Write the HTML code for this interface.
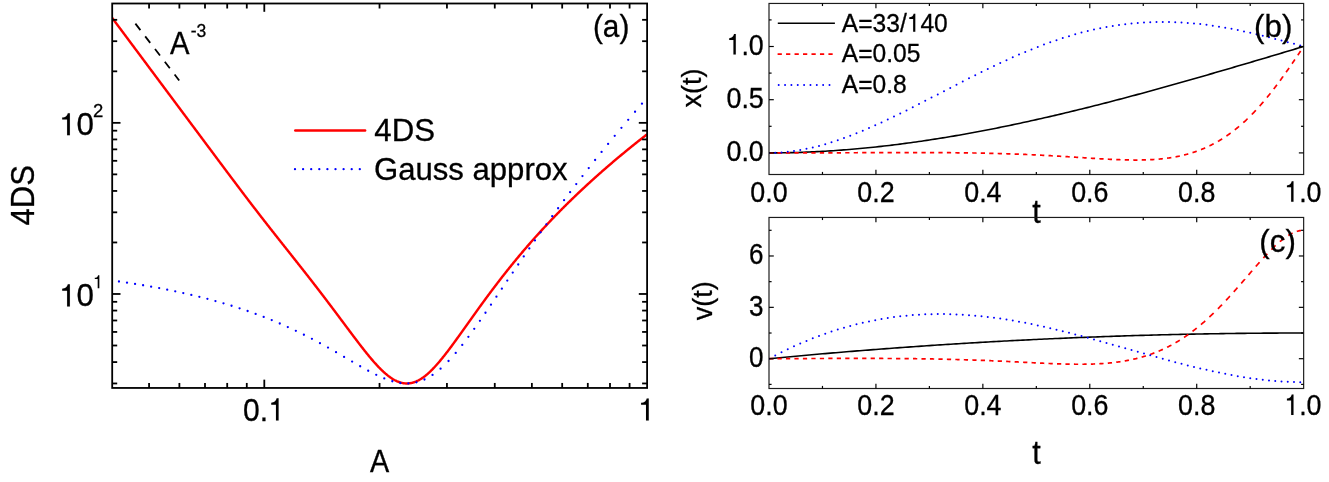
<!DOCTYPE html>
<html><head><meta charset="utf-8"><title>fig</title>
<style>html,body{margin:0;padding:0;background:#fff}svg{display:block;will-change:transform}text{font-kerning:none;stroke:#000;stroke-width:0.3px}.g1{fill:#000;stroke:#000;stroke-width:2}</style></head>
<body>
<svg width="1329" height="482" viewBox="0 0 1329 482">
<rect width="1329" height="482" fill="#fff"/>
<clipPath id="ca"><rect x="112.2" y="3.5" width="534.9" height="384.45"/></clipPath>
<g clip-path="url(#ca)">
<path d="M111.97,17.62 L112.41,18.22 L112.86,18.82 L113.31,19.42 L113.75,20.02 L114.20,20.62 L114.65,21.21 L115.09,21.81 L115.54,22.41 L115.99,23.01 L116.43,23.61 L116.88,24.21 L117.32,24.81 L117.77,25.40 L118.22,26.00 L118.66,26.60 L119.11,27.20 L119.56,27.80 L120.00,28.40 L120.45,29.00 L120.89,29.59 L121.34,30.19 L121.79,30.79 L122.23,31.39 L122.68,31.99 L123.13,32.59 L123.57,33.19 L124.02,33.78 L124.47,34.38 L124.91,34.98 L125.36,35.58 L125.80,36.18 L126.25,36.78 L126.70,37.38 L127.14,37.97 L127.59,38.57 L128.04,39.17 L128.48,39.77 L128.93,40.37 L129.37,40.97 L129.82,41.57 L130.27,42.16 L130.71,42.76 L131.16,43.36 L131.61,43.96 L132.05,44.56 L132.50,45.16 L132.95,45.76 L133.39,46.35 L133.84,46.95 L134.28,47.55 L134.73,48.15 L135.18,48.75 L135.62,49.35 L136.07,49.95 L136.52,50.54 L136.96,51.14 L137.41,51.74 L137.85,52.34 L138.30,52.94 L138.75,53.54 L139.19,54.14 L139.64,54.73 L140.09,55.33 L140.53,55.93 L140.98,56.53 L141.43,57.13 L141.87,57.73 L142.32,58.33 L142.76,58.92 L143.21,59.52 L143.66,60.12 L144.10,60.72 L144.55,61.32 L145.00,61.92 L145.44,62.52 L145.89,63.11 L146.33,63.71 L146.78,64.31 L147.23,64.91 L147.67,65.51 L148.12,66.11 L148.57,66.71 L149.01,67.30 L149.46,67.90 L149.91,68.50 L150.35,69.10 L150.80,69.70 L151.24,70.30 L151.69,70.90 L152.14,71.49 L152.58,72.09 L153.03,72.69 L153.48,73.29 L153.92,73.89 L154.37,74.49 L154.81,75.09 L155.26,75.68 L155.71,76.28 L156.15,76.88 L156.60,77.48 L157.05,78.08 L157.49,78.68 L157.94,79.28 L158.39,79.87 L158.83,80.47 L159.28,81.07 L159.72,81.67 L160.17,82.27 L160.62,82.87 L161.06,83.47 L161.51,84.06 L161.96,84.66 L162.40,85.26 L162.85,85.86 L163.29,86.46 L163.74,87.06 L164.19,87.65 L164.63,88.25 L165.08,88.85 L165.53,89.45 L165.97,90.05 L166.42,90.65 L166.87,91.25 L167.31,91.84 L167.76,92.44 L168.20,93.04 L168.65,93.64 L169.10,94.24 L169.54,94.84 L169.99,95.43 L170.44,96.03 L170.88,96.63 L171.33,97.23 L171.77,97.83 L172.22,98.43 L172.67,99.03 L173.11,99.62 L173.56,100.22 L174.01,100.82 L174.45,101.42 L174.90,102.02 L175.35,102.62 L175.79,103.21 L176.24,103.81 L176.68,104.41 L177.13,105.01 L177.58,105.61 L178.02,106.21 L178.47,106.81 L178.92,107.40 L179.36,108.00 L179.81,108.60 L180.25,109.20 L180.70,109.80 L181.15,110.40 L181.59,110.99 L182.04,111.59 L182.49,112.19 L182.93,112.79 L183.38,113.39 L183.83,113.99 L184.27,114.58 L184.72,115.18 L185.16,115.78 L185.61,116.38 L186.06,116.98 L186.50,117.58 L186.95,118.18 L187.40,118.77 L187.84,119.37 L188.29,119.97 L188.73,120.57 L189.18,121.17 L189.63,121.77 L190.07,122.37 L190.52,122.96 L190.97,123.56 L191.41,124.16 L191.86,124.76 L192.31,125.36 L192.75,125.96 L193.20,126.55 L193.64,127.15 L194.09,127.75 L194.54,128.35 L194.98,128.95 L195.43,129.55 L195.88,130.15 L196.32,130.74 L196.77,131.34 L197.21,131.94 L197.66,132.54 L198.11,133.14 L198.55,133.74 L199.00,134.34 L199.45,134.93 L199.89,135.53 L200.34,136.13 L200.79,136.73 L201.23,137.33 L201.68,137.93 L202.12,138.53 L202.57,139.12 L203.02,139.72 L203.46,140.32 L203.91,140.92 L204.36,141.52 L204.80,142.12 L205.25,142.72 L205.69,143.31 L206.14,143.91 L206.59,144.51 L207.03,145.11 L207.48,145.71 L207.93,146.31 L208.37,146.91 L208.82,147.50 L209.27,148.10 L209.71,148.70 L210.16,149.30 L210.60,149.90 L211.05,150.50 L211.50,151.09 L211.94,151.69 L212.39,152.29 L212.84,152.89 L213.28,153.49 L213.73,154.09 L214.17,154.68 L214.62,155.28 L215.07,155.88 L215.51,156.48 L215.96,157.08 L216.41,157.67 L216.85,158.27 L217.30,158.87 L217.75,159.47 L218.19,160.06 L218.64,160.66 L219.08,161.26 L219.53,161.86 L219.98,162.46 L220.42,163.05 L220.87,163.65 L221.32,164.25 L221.76,164.84 L222.21,165.44 L222.65,166.04 L223.10,166.63 L223.55,167.23 L223.99,167.83 L224.44,168.43 L224.89,169.02 L225.33,169.62 L225.78,170.21 L226.23,170.81 L226.67,171.41 L227.12,172.00 L227.56,172.60 L228.01,173.19 L228.46,173.79 L228.90,174.38 L229.35,174.98 L229.80,175.57 L230.24,176.17 L230.69,176.76 L231.13,177.36 L231.58,177.95 L232.03,178.55 L232.47,179.14 L232.92,179.74 L233.37,180.33 L233.81,180.92 L234.26,181.52 L234.71,182.11 L235.15,182.70 L235.60,183.30 L236.04,183.89 L236.49,184.48 L236.94,185.07 L237.38,185.67 L237.83,186.26 L238.28,186.85 L238.72,187.44 L239.17,188.03 L239.61,188.62 L240.06,189.21 L240.51,189.80 L240.95,190.39 L241.40,190.98 L241.85,191.57 L242.29,192.16 L242.74,192.75 L243.19,193.34 L243.63,193.93 L244.08,194.52 L244.52,195.11 L244.97,195.69 L245.42,196.28 L245.86,196.87 L246.31,197.45 L246.76,198.04 L247.20,198.62 L247.65,199.21 L248.09,199.80 L248.54,200.38 L248.99,200.97 L249.43,201.55 L249.88,202.13 L250.33,202.72 L250.77,203.30 L251.22,203.89 L251.67,204.47 L252.11,205.05 L252.56,205.63 L253.00,206.22 L253.45,206.80 L253.90,207.38 L254.34,207.96 L254.79,208.54 L255.24,209.12 L255.68,209.70 L256.13,210.28 L256.57,210.86 L257.02,211.44 L257.47,212.01 L257.91,212.59 L258.36,213.17 L258.81,213.75 L259.25,214.32 L259.70,214.90 L260.15,215.48 L260.59,216.05 L261.04,216.63 L261.48,217.20 L261.93,217.78 L262.38,218.35 L262.82,218.93 L263.27,219.50 L263.72,220.07 L264.16,220.65 L264.61,221.22 L265.05,221.79 L265.50,222.36 L265.95,222.94 L266.39,223.51 L266.84,224.08 L267.29,224.65 L267.73,225.22 L268.18,225.79 L268.63,226.36 L269.07,226.93 L269.52,227.50 L269.96,228.07 L270.41,228.64 L270.86,229.21 L271.30,229.77 L271.75,230.34 L272.20,230.91 L272.64,231.48 L273.09,232.05 L273.53,232.61 L273.98,233.18 L274.43,233.74 L274.87,234.31 L275.32,234.88 L275.77,235.44 L276.21,236.01 L276.66,236.58 L277.11,237.14 L277.55,237.70 L278.00,238.27 L278.44,238.83 L278.89,239.40 L279.34,239.96 L279.78,240.53 L280.23,241.09 L280.68,241.66 L281.12,242.22 L281.57,242.78 L282.01,243.35 L282.46,243.91 L282.91,244.47 L283.35,245.04 L283.80,245.60 L284.25,246.16 L284.69,246.73 L285.14,247.29 L285.59,247.85 L286.03,248.41 L286.48,248.98 L286.92,249.54 L287.37,250.10 L287.82,250.67 L288.26,251.23 L288.71,251.79 L289.16,252.35 L289.60,252.92 L290.05,253.48 L290.49,254.04 L290.94,254.61 L291.39,255.17 L291.83,255.73 L292.28,256.30 L292.73,256.86 L293.17,257.42 L293.62,257.98 L294.06,258.55 L294.51,259.11 L294.96,259.68 L295.40,260.24 L295.85,260.80 L296.30,261.37 L296.74,261.93 L297.19,262.50 L297.64,263.06 L298.08,263.63 L298.53,264.19 L298.97,264.76 L299.42,265.32 L299.87,265.89 L300.31,266.46 L300.76,267.02 L301.21,267.59 L301.65,268.15 L302.10,268.72 L302.54,269.29 L302.99,269.85 L303.44,270.42 L303.88,270.99 L304.33,271.56 L304.78,272.13 L305.22,272.70 L305.67,273.27 L306.12,273.84 L306.56,274.40 L307.01,274.97 L307.45,275.54 L307.90,276.12 L308.35,276.69 L308.79,277.26 L309.24,277.83 L309.69,278.40 L310.13,278.98 L310.58,279.55 L311.02,280.12 L311.47,280.69 L311.92,281.27 L312.36,281.84 L312.81,282.42 L313.26,282.99 L313.70,283.57 L314.15,284.15 L314.60,284.72 L315.04,285.30 L315.49,285.87 L315.93,286.45 L316.38,287.03 L316.83,287.61 L317.27,288.19 L317.72,288.77 L318.17,289.35 L318.61,289.93 L319.06,290.51 L319.50,291.09 L319.95,291.67 L320.40,292.25 L320.84,292.83 L321.29,293.41 L321.74,294.00 L322.18,294.58 L322.63,295.17 L323.08,295.75 L323.52,296.34 L323.97,296.92 L324.41,297.51 L324.86,298.09 L325.31,298.68 L325.75,299.27 L326.20,299.85 L326.65,300.44 L327.09,301.03 L327.54,301.62 L327.98,302.21 L328.43,302.80 L328.88,303.39 L329.32,303.98 L329.77,304.57 L330.22,305.16 L330.66,305.75 L331.11,306.35 L331.56,306.94 L332.00,307.53 L332.45,308.12 L332.89,308.72 L333.34,309.31 L333.79,309.90 L334.23,310.50 L334.68,311.09 L335.13,311.69 L335.57,312.28 L336.02,312.88 L336.46,313.48 L336.91,314.07 L337.36,314.67 L337.80,315.26 L338.25,315.86 L338.70,316.46 L339.14,317.05 L339.59,317.65 L340.04,318.25 L340.48,318.85 L340.93,319.45 L341.37,320.05 L341.82,320.64 L342.27,321.24 L342.71,321.84 L343.16,322.44 L343.61,323.04 L344.05,323.63 L344.50,324.23 L344.94,324.83 L345.39,325.43 L345.84,326.03 L346.28,326.63 L346.73,327.22 L347.18,327.82 L347.62,328.42 L348.07,329.02 L348.52,329.61 L348.96,330.21 L349.41,330.81 L349.85,331.40 L350.30,332.00 L350.75,332.60 L351.19,333.19 L351.64,333.79 L352.09,334.38 L352.53,334.97 L352.98,335.57 L353.42,336.16 L353.87,336.75 L354.32,337.35 L354.76,337.94 L355.21,338.53 L355.66,339.11 L356.10,339.70 L356.55,340.29 L357.00,340.87 L357.44,341.46 L357.89,342.05 L358.33,342.63 L358.78,343.21 L359.23,343.79 L359.67,344.37 L360.12,344.95 L360.57,345.53 L361.01,346.11 L361.46,346.68 L361.90,347.26 L362.35,347.83 L362.80,348.39 L363.24,348.96 L363.69,349.53 L364.14,350.09 L364.58,350.66 L365.03,351.23 L365.48,351.78 L365.92,352.34 L366.37,352.89 L366.81,353.44 L367.26,353.99 L367.71,354.55 L368.15,355.10 L368.60,355.64 L369.05,356.18 L369.49,356.71 L369.94,357.25 L370.38,357.78 L370.83,358.32 L371.28,358.85 L371.72,359.37 L372.17,359.89 L372.62,360.40 L373.06,360.92 L373.51,361.44 L373.96,361.95 L374.40,362.45 L374.85,362.95 L375.29,363.44 L375.74,363.94 L376.19,364.43 L376.63,364.93 L377.08,365.40 L377.53,365.87 L377.97,366.35 L378.42,366.82 L378.86,367.29 L379.31,367.75 L379.76,368.20 L380.20,368.65 L380.65,369.10 L381.10,369.54 L381.54,369.98 L381.99,370.41 L382.44,370.83 L382.88,371.25 L383.33,371.68 L383.77,372.08 L384.22,372.48 L384.67,372.88 L385.11,373.28 L385.56,373.67 L386.01,374.04 L386.45,374.41 L386.90,374.79 L387.34,375.15 L387.79,375.50 L388.24,375.85 L388.68,376.20 L389.13,376.53 L389.58,376.86 L390.02,377.18 L390.47,377.50 L390.92,377.80 L391.36,378.10 L391.81,378.40 L392.25,378.68 L392.70,378.96 L393.15,379.24 L393.59,379.50 L394.04,379.75 L394.49,380.00 L394.93,380.24 L395.38,380.47 L395.82,380.69 L396.27,380.91 L396.72,381.12 L397.16,381.31 L397.61,381.51 L398.06,381.69 L398.50,381.86 L398.95,382.02 L399.40,382.18 L399.84,382.33 L400.29,382.47 L400.73,382.60 L401.18,382.72 L401.63,382.83 L402.07,382.93 L402.52,383.03 L402.97,383.11 L403.41,383.19 L403.86,383.25 L404.30,383.31 L404.75,383.36 L405.20,383.40 L405.64,383.43 L406.09,383.45 L406.54,383.46 L406.98,383.46 L407.43,383.45 L407.88,383.43 L408.32,383.41 L408.77,383.37 L409.21,383.33 L409.66,383.27 L410.11,383.21 L410.55,383.14 L411.00,383.06 L411.45,382.97 L411.89,382.87 L412.34,382.76 L412.78,382.64 L413.23,382.51 L413.68,382.38 L414.12,382.23 L414.57,382.08 L415.02,381.91 L415.46,381.74 L415.91,381.56 L416.36,381.37 L416.80,381.17 L417.25,380.96 L417.69,380.75 L418.14,380.52 L418.59,380.29 L419.03,380.05 L419.48,379.80 L419.93,379.54 L420.37,379.28 L420.82,379.00 L421.26,378.72 L421.71,378.43 L422.16,378.13 L422.60,377.83 L423.05,377.51 L423.50,377.20 L423.94,376.87 L424.39,376.53 L424.84,376.19 L425.28,375.84 L425.73,375.48 L426.17,375.12 L426.62,374.75 L427.07,374.37 L427.51,373.98 L427.96,373.59 L428.41,373.19 L428.85,372.79 L429.30,372.38 L429.74,371.96 L430.19,371.54 L430.64,371.11 L431.08,370.68 L431.53,370.24 L431.98,369.79 L432.42,369.34 L432.87,368.88 L433.32,368.42 L433.76,367.95 L434.21,367.48 L434.65,367.00 L435.10,366.52 L435.55,366.03 L435.99,365.54 L436.44,365.04 L436.89,364.54 L437.33,364.03 L437.78,363.52 L438.22,363.01 L438.67,362.49 L439.12,361.97 L439.56,361.44 L440.01,360.91 L440.46,360.37 L440.90,359.84 L441.35,359.29 L441.80,358.75 L442.24,358.20 L442.69,357.65 L443.13,357.09 L443.58,356.53 L444.03,355.97 L444.47,355.41 L444.92,354.84 L445.37,354.27 L445.81,353.70 L446.26,353.12 L446.70,352.54 L447.15,351.96 L447.60,351.38 L448.04,350.79 L448.49,350.21 L448.94,349.62 L449.38,349.03 L449.83,348.43 L450.28,347.84 L450.72,347.24 L451.17,346.64 L451.61,346.04 L452.06,345.44 L452.51,344.83 L452.95,344.23 L453.40,343.62 L453.85,343.01 L454.29,342.40 L454.74,341.79 L455.18,341.18 L455.63,340.56 L456.08,339.95 L456.52,339.33 L456.97,338.71 L457.42,338.10 L457.86,337.48 L458.31,336.86 L458.76,336.24 L459.20,335.62 L459.65,334.99 L460.09,334.37 L460.54,333.75 L460.99,333.13 L461.43,332.50 L461.88,331.88 L462.33,331.25 L462.77,330.63 L463.22,330.00 L463.66,329.37 L464.11,328.75 L464.56,328.12 L465.00,327.49 L465.45,326.87 L465.90,326.24 L466.34,325.61 L466.79,324.99 L467.24,324.36 L467.68,323.73 L468.13,323.10 L468.57,322.48 L469.02,321.85 L469.47,321.22 L469.91,320.60 L470.36,319.97 L470.81,319.34 L471.25,318.72 L471.70,318.09 L472.14,317.47 L472.59,316.84 L473.04,316.22 L473.48,315.59 L473.93,314.97 L474.38,314.35 L474.82,313.72 L475.27,313.10 L475.72,312.48 L476.16,311.86 L476.61,311.23 L477.05,310.61 L477.50,309.99 L477.95,309.37 L478.39,308.76 L478.84,308.14 L479.29,307.52 L479.73,306.90 L480.18,306.29 L480.62,305.67 L481.07,305.06 L481.52,304.44 L481.96,303.83 L482.41,303.22 L482.86,302.60 L483.30,301.99 L483.75,301.38 L484.20,300.77 L484.64,300.16 L485.09,299.55 L485.53,298.95 L485.98,298.34 L486.43,297.73 L486.87,297.13 L487.32,296.53 L487.77,295.92 L488.21,295.32 L488.66,294.72 L489.10,294.12 L489.55,293.52 L490.00,292.92 L490.44,292.32 L490.89,291.73 L491.34,291.13 L491.78,290.53 L492.23,289.94 L492.68,289.35 L493.12,288.75 L493.57,288.16 L494.01,287.57 L494.46,286.98 L494.91,286.40 L495.35,285.81 L495.80,285.22 L496.25,284.64 L496.69,284.05 L497.14,283.47 L497.58,282.88 L498.03,282.30 L498.48,281.72 L498.92,281.14 L499.37,280.56 L499.82,279.99 L500.26,279.41 L500.71,278.83 L501.16,278.26 L501.60,277.69 L502.05,277.11 L502.49,276.54 L502.94,275.97 L503.39,275.40 L503.83,274.83 L504.28,274.27 L504.73,273.70 L505.17,273.13 L505.62,272.57 L506.06,272.01 L506.51,271.44 L506.96,270.88 L507.40,270.32 L507.85,269.76 L508.30,269.20 L508.74,268.65 L509.19,268.09 L509.64,267.53 L510.08,266.98 L510.53,266.43 L510.97,265.87 L511.42,265.32 L511.87,264.77 L512.31,264.22 L512.76,263.68 L513.21,263.13 L513.65,262.58 L514.10,262.04 L514.54,261.49 L514.99,260.95 L515.44,260.41 L515.88,259.87 L516.33,259.33 L516.78,258.79 L517.22,258.25 L517.67,257.71 L518.12,257.18 L518.56,256.64 L519.01,256.11 L519.45,255.57 L519.90,255.04 L520.35,254.51 L520.79,253.98 L521.24,253.45 L521.69,252.93 L522.13,252.40 L522.58,251.87 L523.02,251.35 L523.47,250.82 L523.92,250.30 L524.36,249.78 L524.81,249.26 L525.26,248.74 L525.70,248.22 L526.15,247.70 L526.60,247.18 L527.04,246.67 L527.49,246.15 L527.93,245.64 L528.38,245.12 L528.83,244.61 L529.27,244.10 L529.72,243.59 L530.17,243.08 L530.61,242.57 L531.06,242.06 L531.50,241.56 L531.95,241.05 L532.40,240.54 L532.84,240.04 L533.29,239.54 L533.74,239.03 L534.18,238.53 L534.63,238.03 L535.07,237.53 L535.52,237.04 L535.97,236.54 L536.41,236.04 L536.86,235.55 L537.31,235.05 L537.75,234.56 L538.20,234.06 L538.65,233.57 L539.09,233.08 L539.54,232.59 L539.98,232.10 L540.43,231.61 L540.88,231.12 L541.32,230.64 L541.77,230.15 L542.22,229.67 L542.66,229.18 L543.11,228.70 L543.55,228.22 L544.00,227.73 L544.45,227.25 L544.89,226.78 L545.34,226.30 L545.79,225.82 L546.23,225.34 L546.68,224.86 L547.13,224.39 L547.57,223.91 L548.02,223.44 L548.46,222.97 L548.91,222.49 L549.36,222.02 L549.80,221.55 L550.25,221.08 L550.70,220.61 L551.14,220.15 L551.59,219.68 L552.03,219.21 L552.48,218.75 L552.93,218.28 L553.37,217.82 L553.82,217.35 L554.27,216.89 L554.71,216.43 L555.16,215.97 L555.61,215.51 L556.05,215.05 L556.50,214.59 L556.94,214.13 L557.39,213.67 L557.84,213.22 L558.28,212.76 L558.73,212.31 L559.18,211.85 L559.62,211.40 L560.07,210.95 L560.51,210.50 L560.96,210.05 L561.41,209.60 L561.85,209.15 L562.30,208.70 L562.75,208.25 L563.19,207.80 L563.64,207.35 L564.09,206.91 L564.53,206.47 L564.98,206.02 L565.42,205.58 L565.87,205.13 L566.32,204.69 L566.76,204.25 L567.21,203.81 L567.66,203.37 L568.10,202.93 L568.55,202.49 L568.99,202.05 L569.44,201.62 L569.89,201.18 L570.33,200.75 L570.78,200.31 L571.23,199.88 L571.67,199.44 L572.12,199.01 L572.57,198.58 L573.01,198.15 L573.46,197.72 L573.90,197.28 L574.35,196.85 L574.80,196.43 L575.24,196.00 L575.69,195.57 L576.14,195.14 L576.58,194.72 L577.03,194.29 L577.47,193.87 L577.92,193.44 L578.37,193.02 L578.81,192.60 L579.26,192.17 L579.71,191.75 L580.15,191.33 L580.60,190.91 L581.05,190.49 L581.49,190.07 L581.94,189.65 L582.38,189.24 L582.83,188.82 L583.28,188.40 L583.72,187.99 L584.17,187.57 L584.62,187.16 L585.06,186.74 L585.51,186.33 L585.95,185.92 L586.40,185.50 L586.85,185.09 L587.29,184.68 L587.74,184.27 L588.19,183.86 L588.63,183.45 L589.08,183.04 L589.53,182.63 L589.97,182.23 L590.42,181.82 L590.86,181.41 L591.31,181.01 L591.76,180.60 L592.20,180.20 L592.65,179.80 L593.10,179.39 L593.54,178.99 L593.99,178.59 L594.43,178.19 L594.88,177.78 L595.33,177.38 L595.77,176.98 L596.22,176.59 L596.67,176.19 L597.11,175.79 L597.56,175.39 L598.01,174.99 L598.45,174.60 L598.90,174.20 L599.34,173.80 L599.79,173.41 L600.24,173.02 L600.68,172.62 L601.13,172.23 L601.58,171.84 L602.02,171.44 L602.47,171.05 L602.91,170.66 L603.36,170.27 L603.81,169.88 L604.25,169.49 L604.70,169.10 L605.15,168.71 L605.59,168.32 L606.04,167.94 L606.49,167.55 L606.93,167.16 L607.38,166.78 L607.82,166.39 L608.27,166.01 L608.72,165.62 L609.16,165.24 L609.61,164.86 L610.06,164.47 L610.50,164.09 L610.95,163.71 L611.39,163.33 L611.84,162.95 L612.29,162.57 L612.73,162.19 L613.18,161.81 L613.63,161.43 L614.07,161.05 L614.52,160.67 L614.97,160.29 L615.41,159.92 L615.86,159.54 L616.30,159.16 L616.75,158.79 L617.20,158.41 L617.64,158.04 L618.09,157.67 L618.54,157.29 L618.98,156.92 L619.43,156.55 L619.87,156.17 L620.32,155.80 L620.77,155.43 L621.21,155.06 L621.66,154.69 L622.11,154.32 L622.55,153.95 L623.00,153.58 L623.45,153.21 L623.89,152.84 L624.34,152.48 L624.78,152.11 L625.23,151.74 L625.68,151.37 L626.12,151.01 L626.57,150.64 L627.02,150.28 L627.46,149.91 L627.91,149.55 L628.35,149.19 L628.80,148.82 L629.25,148.46 L629.69,148.10 L630.14,147.73 L630.59,147.37 L631.03,147.01 L631.48,146.65 L631.93,146.29 L632.37,145.93 L632.82,145.57 L633.26,145.21 L633.71,144.85 L634.16,144.49 L634.60,144.14 L635.05,143.78 L635.50,143.42 L635.94,143.07 L636.39,142.71 L636.83,142.35 L637.28,142.00 L637.73,141.64 L638.17,141.29 L638.62,140.93 L639.07,140.58 L639.51,140.23 L639.96,139.87 L640.41,139.52 L640.85,139.17 L641.30,138.82 L641.74,138.46 L642.19,138.11 L642.64,137.76 L643.08,137.41 L643.53,137.06 L643.98,136.71 L644.42,136.36 L644.87,136.02 L645.31,135.67 L645.76,135.32 L646.21,134.97 L646.65,134.62 L647.10,134.28" fill="none" stroke="#ff0000" stroke-width="2.45" stroke-linejoin="round"/>
<path d="M118.97,281.50h0M127.01,282.68h0M135.05,283.93h0M143.09,285.25h0M151.13,286.65h0M159.17,288.12h0M167.21,289.67h0M175.25,291.31h0M183.29,293.05h0M191.33,294.88h0M199.37,296.82h0M207.41,298.87h0M215.45,301.04h0M223.49,303.33h0M231.53,305.75h0M239.57,308.31h0M247.61,311.02h0M255.65,313.89h0M263.69,316.92h0M271.73,320.12h0M279.77,323.50h0M287.81,327.06h0M295.85,330.81h0M303.89,334.74h0M311.93,338.86h0M319.97,343.16h0M328.01,347.62h0M336.05,352.22h0M344.09,356.90h0M352.13,361.61h0M360.17,366.26h0M368.21,370.73h0M376.25,374.85h0M384.29,378.43h0M392.33,381.23h0M400.37,382.99h0M408.41,383.43h0M416.45,382.33h0M424.49,379.52h0M432.53,374.96h0M440.57,368.70h0M448.54,360.99h0M455.73,352.95h0M462.26,344.91h0M468.38,336.87h0M474.24,328.83h0M479.92,320.79h0M485.49,312.75h0M490.98,304.71h0M496.43,296.67h0M501.86,288.63h0M507.29,280.59h0M512.75,272.55h0M518.23,264.51h0M523.75,256.47h0M529.32,248.43h0M534.95,240.39h0M540.63,232.35h0M546.39,224.31h0M552.21,216.27h0M558.11,208.23h0M564.08,200.19h0M570.13,192.15h0M576.26,184.11h0M582.46,176.07h0M588.75,168.03h0M595.13,159.99h0M601.58,151.95h0M608.11,143.91h0M614.73,135.87h0M621.42,127.83h0M628.20,119.79h0M635.05,111.75h0M641.98,103.71h0" fill="none" stroke="#0000ff" stroke-width="2.3" stroke-linecap="round"/>
</g>
<path d="M135.40,23.60 L179.20,80.50" fill="none" stroke="#000" stroke-width="1.8" stroke-dasharray="8.2 7.87"/>
<rect x="112.2" y="3.5" width="534.9" height="384.45" fill="none" stroke="#000" stroke-width="1.8"/>
<line x1="149.07" y1="387.95" x2="149.07" y2="382.95" stroke="#000" stroke-width="1.8"/>
<line x1="149.07" y1="3.50" x2="149.07" y2="8.50" stroke="#000" stroke-width="1.8"/>
<line x1="179.38" y1="387.95" x2="179.38" y2="382.95" stroke="#000" stroke-width="1.8"/>
<line x1="179.38" y1="3.50" x2="179.38" y2="8.50" stroke="#000" stroke-width="1.8"/>
<line x1="205.00" y1="387.95" x2="205.00" y2="382.95" stroke="#000" stroke-width="1.8"/>
<line x1="205.00" y1="3.50" x2="205.00" y2="8.50" stroke="#000" stroke-width="1.8"/>
<line x1="227.20" y1="387.95" x2="227.20" y2="382.95" stroke="#000" stroke-width="1.8"/>
<line x1="227.20" y1="3.50" x2="227.20" y2="8.50" stroke="#000" stroke-width="1.8"/>
<line x1="246.78" y1="387.95" x2="246.78" y2="382.95" stroke="#000" stroke-width="1.8"/>
<line x1="246.78" y1="3.50" x2="246.78" y2="8.50" stroke="#000" stroke-width="1.8"/>
<line x1="264.30" y1="387.95" x2="264.30" y2="379.65" stroke="#000" stroke-width="1.8"/>
<line x1="264.30" y1="3.50" x2="264.30" y2="11.80" stroke="#000" stroke-width="1.8"/>
<line x1="379.53" y1="387.95" x2="379.53" y2="382.95" stroke="#000" stroke-width="1.8"/>
<line x1="379.53" y1="3.50" x2="379.53" y2="8.50" stroke="#000" stroke-width="1.8"/>
<line x1="446.94" y1="387.95" x2="446.94" y2="382.95" stroke="#000" stroke-width="1.8"/>
<line x1="446.94" y1="3.50" x2="446.94" y2="8.50" stroke="#000" stroke-width="1.8"/>
<line x1="494.77" y1="387.95" x2="494.77" y2="382.95" stroke="#000" stroke-width="1.8"/>
<line x1="494.77" y1="3.50" x2="494.77" y2="8.50" stroke="#000" stroke-width="1.8"/>
<line x1="531.87" y1="387.95" x2="531.87" y2="382.95" stroke="#000" stroke-width="1.8"/>
<line x1="531.87" y1="3.50" x2="531.87" y2="8.50" stroke="#000" stroke-width="1.8"/>
<line x1="562.18" y1="387.95" x2="562.18" y2="382.95" stroke="#000" stroke-width="1.8"/>
<line x1="562.18" y1="3.50" x2="562.18" y2="8.50" stroke="#000" stroke-width="1.8"/>
<line x1="587.80" y1="387.95" x2="587.80" y2="382.95" stroke="#000" stroke-width="1.8"/>
<line x1="587.80" y1="3.50" x2="587.80" y2="8.50" stroke="#000" stroke-width="1.8"/>
<line x1="610.00" y1="387.95" x2="610.00" y2="382.95" stroke="#000" stroke-width="1.8"/>
<line x1="610.00" y1="3.50" x2="610.00" y2="8.50" stroke="#000" stroke-width="1.8"/>
<line x1="629.58" y1="387.95" x2="629.58" y2="382.95" stroke="#000" stroke-width="1.8"/>
<line x1="629.58" y1="3.50" x2="629.58" y2="8.50" stroke="#000" stroke-width="1.8"/>
<line x1="112.20" y1="383.46" x2="117.20" y2="383.46" stroke="#000" stroke-width="1.8"/>
<line x1="647.10" y1="383.46" x2="642.10" y2="383.46" stroke="#000" stroke-width="1.8"/>
<line x1="112.20" y1="362.08" x2="117.20" y2="362.08" stroke="#000" stroke-width="1.8"/>
<line x1="647.10" y1="362.08" x2="642.10" y2="362.08" stroke="#000" stroke-width="1.8"/>
<line x1="112.20" y1="345.50" x2="117.20" y2="345.50" stroke="#000" stroke-width="1.8"/>
<line x1="647.10" y1="345.50" x2="642.10" y2="345.50" stroke="#000" stroke-width="1.8"/>
<line x1="112.20" y1="331.94" x2="117.20" y2="331.94" stroke="#000" stroke-width="1.8"/>
<line x1="647.10" y1="331.94" x2="642.10" y2="331.94" stroke="#000" stroke-width="1.8"/>
<line x1="112.20" y1="320.49" x2="117.20" y2="320.49" stroke="#000" stroke-width="1.8"/>
<line x1="647.10" y1="320.49" x2="642.10" y2="320.49" stroke="#000" stroke-width="1.8"/>
<line x1="112.20" y1="310.56" x2="117.20" y2="310.56" stroke="#000" stroke-width="1.8"/>
<line x1="647.10" y1="310.56" x2="642.10" y2="310.56" stroke="#000" stroke-width="1.8"/>
<line x1="112.20" y1="301.81" x2="117.20" y2="301.81" stroke="#000" stroke-width="1.8"/>
<line x1="647.10" y1="301.81" x2="642.10" y2="301.81" stroke="#000" stroke-width="1.8"/>
<line x1="112.20" y1="293.98" x2="120.50" y2="293.98" stroke="#000" stroke-width="1.8"/>
<line x1="647.10" y1="293.98" x2="638.80" y2="293.98" stroke="#000" stroke-width="1.8"/>
<line x1="112.20" y1="242.46" x2="117.20" y2="242.46" stroke="#000" stroke-width="1.8"/>
<line x1="647.10" y1="242.46" x2="642.10" y2="242.46" stroke="#000" stroke-width="1.8"/>
<line x1="112.20" y1="212.33" x2="117.20" y2="212.33" stroke="#000" stroke-width="1.8"/>
<line x1="647.10" y1="212.33" x2="642.10" y2="212.33" stroke="#000" stroke-width="1.8"/>
<line x1="112.20" y1="190.95" x2="117.20" y2="190.95" stroke="#000" stroke-width="1.8"/>
<line x1="647.10" y1="190.95" x2="642.10" y2="190.95" stroke="#000" stroke-width="1.8"/>
<line x1="112.20" y1="174.37" x2="117.20" y2="174.37" stroke="#000" stroke-width="1.8"/>
<line x1="647.10" y1="174.37" x2="642.10" y2="174.37" stroke="#000" stroke-width="1.8"/>
<line x1="112.20" y1="160.81" x2="117.20" y2="160.81" stroke="#000" stroke-width="1.8"/>
<line x1="647.10" y1="160.81" x2="642.10" y2="160.81" stroke="#000" stroke-width="1.8"/>
<line x1="112.20" y1="149.36" x2="117.20" y2="149.36" stroke="#000" stroke-width="1.8"/>
<line x1="647.10" y1="149.36" x2="642.10" y2="149.36" stroke="#000" stroke-width="1.8"/>
<line x1="112.20" y1="139.43" x2="117.20" y2="139.43" stroke="#000" stroke-width="1.8"/>
<line x1="647.10" y1="139.43" x2="642.10" y2="139.43" stroke="#000" stroke-width="1.8"/>
<line x1="112.20" y1="130.68" x2="117.20" y2="130.68" stroke="#000" stroke-width="1.8"/>
<line x1="647.10" y1="130.68" x2="642.10" y2="130.68" stroke="#000" stroke-width="1.8"/>
<line x1="112.20" y1="122.85" x2="120.50" y2="122.85" stroke="#000" stroke-width="1.8"/>
<line x1="647.10" y1="122.85" x2="638.80" y2="122.85" stroke="#000" stroke-width="1.8"/>
<line x1="112.20" y1="71.33" x2="117.20" y2="71.33" stroke="#000" stroke-width="1.8"/>
<line x1="647.10" y1="71.33" x2="642.10" y2="71.33" stroke="#000" stroke-width="1.8"/>
<line x1="112.20" y1="41.20" x2="117.20" y2="41.20" stroke="#000" stroke-width="1.8"/>
<line x1="647.10" y1="41.20" x2="642.10" y2="41.20" stroke="#000" stroke-width="1.8"/>
<line x1="112.20" y1="19.82" x2="117.20" y2="19.82" stroke="#000" stroke-width="1.8"/>
<line x1="647.10" y1="19.82" x2="642.10" y2="19.82" stroke="#000" stroke-width="1.8"/>
<g transform="translate(264.00,420.50) scale(0.96,1.0)">
<path class="g1" transform="translate(4.35,0.00) scale(0.03130)" d="M259,0V-505H102V-568C204,-581 247,-599 282,-709H347V0Z"/>
<text x="-21.76" y="0" font-size="31.3" font-family="Liberation Sans, sans-serif" >0.<tspan style="visibility:hidden">1</tspan></text></g>
<g transform="translate(646.60,420.60)">
<path class="g1" transform="translate(-8.70,0.00) scale(0.03130)" d="M259,0V-505H102V-568C204,-581 247,-599 282,-709H347V0Z"/>
<text x="-8.70" y="0" font-size="31.3" font-family="Liberation Sans, sans-serif" ><tspan style="visibility:hidden">1</tspan></text></g>
<g transform="translate(59.00,135.35)">
<path class="g1" transform="translate(0.00,0.00) scale(0.03130)" d="M259,0V-505H102V-568C204,-581 247,-599 282,-709H347V0Z"/>
<text x="0.00" y="0" font-size="31.3" font-family="Liberation Sans, sans-serif" ><tspan style="visibility:hidden">1</tspan>0</text></g>
<g transform="translate(92.91,117.15)">
<text x="0.00" y="0" font-size="18.5" font-family="Liberation Sans, sans-serif" >2</text></g>
<g transform="translate(59.00,306.48)">
<path class="g1" transform="translate(0.00,0.00) scale(0.03130)" d="M259,0V-505H102V-568C204,-581 247,-599 282,-709H347V0Z"/>
<text x="0.00" y="0" font-size="31.3" font-family="Liberation Sans, sans-serif" ><tspan style="visibility:hidden">1</tspan>0</text></g>
<g transform="translate(92.91,288.28)">
<path class="g1" transform="translate(0.00,0.00) scale(0.01850)" d="M259,0V-505H102V-568C204,-581 247,-599 282,-709H347V0Z"/>
<text x="0.00" y="0" font-size="18.5" font-family="Liberation Sans, sans-serif" ><tspan style="visibility:hidden">1</tspan></text></g>
<text transform="translate(379.5,471.6) scale(1,1.105)" font-size="28.8" text-anchor="middle" font-family="Liberation Sans, sans-serif">A</text>
<text transform="translate(34.2,195.3) rotate(-90) scale(1,1.09)" font-size="31.1" text-anchor="middle" font-family="Liberation Sans, sans-serif">4DS</text>
<g transform="translate(611.10,36.70) scale(0.955,1.0)">
<text x="-19.07" y="0" font-size="31.2" font-family="Liberation Sans, sans-serif" >(a)</text></g>
<g transform="translate(170.00,54.40) scale(0.935,1.0)">
<text x="0.00" y="0" font-size="31.3" font-family="Liberation Sans, sans-serif" >A</text></g>
<g transform="translate(190.78,36.60)">
<text x="0.00" y="0" font-size="17.5" font-family="Liberation Sans, sans-serif" >-3</text></g>
<line x1="295.3" y1="130.5" x2="365.1" y2="130.5" stroke="#ff0000" stroke-width="2.5" stroke-linecap="round"/>
<path d="M295.00,169.20h0M303.10,169.20h0M311.20,169.20h0M319.30,169.20h0M327.40,169.20h0M335.50,169.20h0M343.60,169.20h0M351.70,169.20h0M359.80,169.20h0" fill="none" stroke="#0000ff" stroke-width="2.3" stroke-linecap="round"/>
<g transform="translate(374.30,140.50)">
<text x="0.00" y="0" font-size="31.2" font-family="Liberation Sans, sans-serif" >4DS</text></g>
<g transform="translate(374.00,180.10)">
<text x="0.00" y="0" font-size="31.1" font-family="Liberation Sans, sans-serif" >Gauss approx</text></g>
<clipPath id="cb"><rect x="769.0" y="3.45" width="534.6500000000001" height="171.05"/></clipPath>
<g clip-path="url(#cb)">
<path d="M769.00,152.90 L771.67,152.90 L774.35,152.88 L777.02,152.86 L779.69,152.84 L782.37,152.80 L785.04,152.76 L787.71,152.71 L790.39,152.65 L793.06,152.58 L795.73,152.51 L798.41,152.43 L801.08,152.34 L803.75,152.24 L806.43,152.14 L809.10,152.02 L811.77,151.91 L814.45,151.78 L817.12,151.65 L819.79,151.51 L822.47,151.36 L825.14,151.20 L827.81,151.04 L830.48,150.87 L833.16,150.69 L835.83,150.51 L838.50,150.32 L841.18,150.12 L843.85,149.92 L846.52,149.71 L849.20,149.49 L851.87,149.26 L854.54,149.03 L857.22,148.79 L859.89,148.55 L862.56,148.30 L865.24,148.04 L867.91,147.77 L870.58,147.50 L873.26,147.23 L875.93,146.94 L878.60,146.65 L881.28,146.35 L883.95,146.05 L886.62,145.74 L889.30,145.43 L891.97,145.10 L894.64,144.78 L897.32,144.44 L899.99,144.10 L902.66,143.76 L905.34,143.40 L908.01,143.05 L910.68,142.68 L913.36,142.31 L916.03,141.94 L918.70,141.56 L921.38,141.17 L924.05,140.78 L926.72,140.38 L929.39,139.97 L932.07,139.56 L934.74,139.15 L937.41,138.73 L940.09,138.30 L942.76,137.87 L945.43,137.43 L948.11,136.99 L950.78,136.54 L953.45,136.09 L956.13,135.63 L958.80,135.17 L961.47,134.70 L964.15,134.22 L966.82,133.75 L969.49,133.26 L972.17,132.77 L974.84,132.28 L977.51,131.78 L980.19,131.28 L982.86,130.77 L985.53,130.26 L988.21,129.74 L990.88,129.22 L993.55,128.69 L996.23,128.16 L998.90,127.62 L1001.57,127.08 L1004.25,126.53 L1006.92,125.98 L1009.59,125.43 L1012.27,124.87 L1014.94,124.31 L1017.61,123.74 L1020.29,123.17 L1022.96,122.59 L1025.63,122.01 L1028.31,121.43 L1030.98,120.84 L1033.65,120.25 L1036.33,119.65 L1039.00,119.05 L1041.67,118.45 L1044.34,117.84 L1047.02,117.22 L1049.69,116.61 L1052.36,115.99 L1055.04,115.37 L1057.71,114.74 L1060.38,114.11 L1063.06,113.47 L1065.73,112.83 L1068.40,112.19 L1071.08,111.55 L1073.75,110.90 L1076.42,110.25 L1079.10,109.59 L1081.77,108.93 L1084.44,108.27 L1087.12,107.60 L1089.79,106.94 L1092.46,106.26 L1095.14,105.59 L1097.81,104.91 L1100.48,104.23 L1103.16,103.54 L1105.83,102.86 L1108.50,102.17 L1111.18,101.47 L1113.85,100.78 L1116.52,100.08 L1119.20,99.38 L1121.87,98.67 L1124.54,97.97 L1127.22,97.26 L1129.89,96.54 L1132.56,95.83 L1135.24,95.11 L1137.91,94.39 L1140.58,93.67 L1143.26,92.94 L1145.93,92.22 L1148.60,91.49 L1151.27,90.75 L1153.95,90.02 L1156.62,89.28 L1159.29,88.54 L1161.97,87.80 L1164.64,87.06 L1167.31,86.32 L1169.99,85.57 L1172.66,84.82 L1175.33,84.07 L1178.01,83.32 L1180.68,82.56 L1183.35,81.80 L1186.03,81.05 L1188.70,80.29 L1191.37,79.52 L1194.05,78.76 L1196.72,77.99 L1199.39,77.23 L1202.07,76.46 L1204.74,75.69 L1207.41,74.92 L1210.09,74.14 L1212.76,73.37 L1215.43,72.60 L1218.11,71.82 L1220.78,71.04 L1223.45,70.26 L1226.13,69.48 L1228.80,68.70 L1231.47,67.92 L1234.15,67.13 L1236.82,66.35 L1239.49,65.56 L1242.17,64.77 L1244.84,63.99 L1247.51,63.20 L1250.19,62.41 L1252.86,61.62 L1255.53,60.83 L1258.20,60.03 L1260.88,59.24 L1263.55,58.45 L1266.22,57.65 L1268.90,56.86 L1271.57,56.06 L1274.24,55.27 L1276.92,54.47 L1279.59,53.68 L1282.26,52.88 L1284.94,52.08 L1287.61,51.29 L1290.28,50.49 L1292.96,49.69 L1295.63,48.89 L1298.30,48.10 L1300.98,47.30 L1303.65,46.50" fill="none" stroke="#000" stroke-width="1.6"/>
<path d="M769.00,152.90L769.27,152.90L769.80,152.90L770.07,152.90L770.60,152.90L770.87,152.90L771.41,152.90L771.67,152.90L772.21,152.90L772.48,152.90L773.01,152.90L773.25,152.90M777.47,152.90L777.82,152.90L778.09,152.90L778.62,152.90L778.89,152.90L779.43,152.90L779.69,152.90L780.23,152.90L780.49,152.90L781.03,152.90L781.30,152.90L781.72,152.90M785.94,152.89L786.38,152.89L786.64,152.89L787.18,152.89L787.45,152.89L787.98,152.89L788.25,152.89L788.78,152.89L789.05,152.89L789.58,152.89L789.85,152.89L790.19,152.89M794.41,152.88L794.66,152.88L795.20,152.88L795.47,152.88L796.00,152.88L796.27,152.88L796.80,152.88L797.07,152.88L797.60,152.88L797.87,152.88L798.41,152.88L798.66,152.88M802.88,152.87L803.22,152.87L803.48,152.87L804.02,152.87L804.29,152.87L804.82,152.87L805.09,152.86L805.62,152.86L805.89,152.86L806.43,152.86L806.69,152.86L807.13,152.86M811.35,152.85L811.77,152.85L812.04,152.85L812.57,152.85L812.84,152.85L813.38,152.85L813.64,152.85L814.18,152.85L814.45,152.85L814.98,152.84L815.25,152.84L815.60,152.84M819.82,152.83L820.33,152.83L820.59,152.83L821.13,152.83L821.40,152.83L821.93,152.83L822.20,152.83L822.73,152.83L823.00,152.83L823.53,152.82L823.80,152.82L824.07,152.82M828.29,152.81L828.61,152.81L828.88,152.81L829.42,152.81L829.68,152.81L830.22,152.81L830.48,152.81L831.02,152.80L831.29,152.80L831.82,152.80L832.09,152.80L832.54,152.80M836.76,152.79L837.17,152.79L837.44,152.79L837.97,152.78L838.24,152.78L838.77,152.78L839.04,152.78L839.57,152.78L839.84,152.78L840.38,152.78L840.64,152.78L841.01,152.78M845.23,152.76L845.72,152.76L845.99,152.76L846.52,152.76L846.79,152.76L847.33,152.76L847.59,152.76L848.13,152.75L848.40,152.75L848.93,152.75L849.20,152.75L849.48,152.75M853.70,152.74L854.01,152.74L854.28,152.73L854.81,152.73L855.08,152.73L855.61,152.73L855.88,152.73L856.42,152.73L856.68,152.73L857.22,152.73L857.48,152.72L857.95,152.72M862.17,152.71L862.56,152.71L862.83,152.71L863.37,152.71L863.63,152.71L864.17,152.70L864.44,152.70L864.97,152.70L865.24,152.70L865.77,152.70L866.04,152.70L866.42,152.70M870.64,152.68L871.12,152.68L871.39,152.68L871.92,152.68L872.19,152.68L872.72,152.68L872.99,152.68L873.52,152.68L873.79,152.67L874.33,152.67L874.59,152.67L874.89,152.67M879.11,152.66L879.41,152.66L879.67,152.66L880.21,152.66L880.47,152.66L881.01,152.65L881.28,152.65L881.81,152.65L882.08,152.65L882.61,152.65L882.88,152.65L883.36,152.65M887.58,152.64L887.96,152.64L888.23,152.64L888.76,152.63L889.03,152.63L889.56,152.63L889.83,152.63L890.37,152.63L890.63,152.63L891.17,152.63L891.43,152.63L891.83,152.63M896.05,152.62L896.51,152.62L896.78,152.62L897.32,152.62L897.58,152.62L898.12,152.62L898.39,152.62L898.92,152.61L899.19,152.61L899.72,152.61L899.99,152.61L900.30,152.61M904.52,152.61L904.80,152.61L905.07,152.61L905.60,152.61L905.87,152.61L906.41,152.61L906.67,152.61L907.21,152.60L907.47,152.60L908.01,152.60L908.28,152.60L908.77,152.60M912.99,152.60L913.36,152.60L913.62,152.60L914.16,152.60L914.42,152.60L914.96,152.60L915.23,152.60L915.76,152.60L916.03,152.60L916.56,152.60L916.83,152.60L917.24,152.60M921.46,152.61L921.91,152.61L922.18,152.61L922.71,152.61L922.98,152.61L923.51,152.61L923.78,152.61L924.32,152.61L924.58,152.61L925.12,152.61L925.39,152.61L925.71,152.61M929.93,152.62L930.20,152.62L930.73,152.62L931.00,152.62L931.53,152.63L931.80,152.63L932.34,152.63L932.60,152.63L933.14,152.63L933.40,152.63L933.94,152.63L934.18,152.63M938.40,152.65L938.75,152.65L939.02,152.65L939.55,152.66L939.82,152.66L940.36,152.66L940.62,152.66L941.16,152.66L941.42,152.67L941.96,152.67L942.23,152.67L942.65,152.67M946.87,152.70L947.31,152.70L947.57,152.70L948.11,152.71L948.38,152.71L948.91,152.71L949.18,152.71L949.71,152.72L949.98,152.72L950.51,152.72L950.78,152.73L951.12,152.73M955.34,152.76L955.59,152.77L956.13,152.77L956.39,152.77L956.93,152.78L957.20,152.78L957.73,152.79L958.00,152.79L958.53,152.79L958.80,152.80L959.34,152.80L959.59,152.80M963.81,152.85L964.15,152.86L964.41,152.86L964.95,152.87L965.22,152.87L965.75,152.88L966.02,152.88L966.55,152.89L966.82,152.89L967.36,152.90L967.62,152.90L968.06,152.91M972.28,152.97L972.70,152.97L972.97,152.98L973.50,152.98L973.77,152.99L974.31,153.00L974.57,153.00L975.11,153.01L975.37,153.01L975.91,153.02L976.18,153.03L976.53,153.03M980.75,153.11L981.26,153.12L981.52,153.12L982.06,153.13L982.33,153.14L982.86,153.15L983.13,153.15L983.66,153.16L983.93,153.17L984.46,153.18L984.73,153.19L985.00,153.19M989.22,153.28L989.54,153.29L989.81,153.30L990.35,153.31L990.61,153.32L991.15,153.33L991.41,153.33L991.95,153.35L992.22,153.35L992.75,153.37L993.02,153.37L993.47,153.38M997.69,153.49L998.10,153.50L998.36,153.51L998.90,153.53L999.17,153.53L999.70,153.55L999.97,153.56L1000.50,153.57L1000.77,153.58L1001.31,153.59L1001.57,153.60L1001.94,153.61M1006.16,153.74L1006.65,153.76L1006.92,153.76L1007.45,153.78L1007.72,153.79L1008.26,153.81L1008.52,153.82L1009.06,153.83L1009.33,153.84L1009.86,153.86L1010.13,153.87L1010.41,153.88M1014.63,154.03L1014.94,154.04L1015.21,154.05L1015.74,154.07L1016.01,154.08L1016.54,154.10L1016.81,154.11L1017.34,154.13L1017.61,154.14L1018.15,154.16L1018.41,154.17L1018.88,154.19M1023.10,154.36L1023.49,154.37L1023.76,154.38L1024.30,154.41L1024.56,154.42L1025.10,154.44L1025.36,154.45L1025.90,154.47L1026.17,154.48L1026.70,154.51L1026.97,154.52L1027.35,154.54M1031.57,154.73L1032.05,154.75L1032.32,154.76L1032.85,154.79L1033.12,154.80L1033.65,154.82L1033.92,154.84L1034.45,154.86L1034.72,154.87L1035.26,154.90L1035.52,154.91L1035.82,154.93M1040.04,155.14L1040.33,155.15L1040.60,155.17L1041.14,155.19L1041.40,155.21L1041.94,155.23L1042.21,155.25L1042.74,155.28L1043.01,155.29L1043.54,155.32L1043.81,155.33L1044.29,155.36M1048.51,155.59L1048.89,155.61L1049.16,155.62L1049.69,155.65L1049.96,155.67L1050.49,155.70L1050.76,155.71L1051.30,155.74L1051.56,155.76L1052.10,155.79L1052.36,155.80L1052.76,155.83M1056.98,156.07L1057.44,156.10L1057.71,156.12L1058.25,156.15L1058.51,156.16L1059.05,156.20L1059.31,156.21L1059.85,156.25L1060.12,156.26L1060.65,156.29L1060.92,156.31L1061.23,156.33M1065.45,156.59L1065.73,156.61L1066.00,156.62L1066.53,156.66L1066.80,156.67L1067.33,156.71L1067.60,156.72L1068.14,156.76L1068.40,156.77L1068.94,156.81L1069.21,156.82L1069.70,156.86M1073.92,157.12L1074.29,157.15L1074.55,157.17L1075.09,157.20L1075.35,157.22L1075.89,157.25L1076.16,157.27L1076.69,157.30L1076.96,157.32L1077.49,157.35L1077.76,157.37L1078.17,157.40M1082.39,157.67L1082.84,157.70L1083.11,157.72L1083.64,157.75L1083.91,157.77L1084.44,157.80L1084.71,157.82L1085.25,157.85L1085.51,157.87L1086.05,157.91L1086.31,157.92L1086.64,157.94M1090.86,158.21L1091.13,158.23L1091.66,158.26L1091.93,158.28L1092.46,158.31L1092.73,158.33L1093.27,158.36L1093.53,158.38L1094.07,158.41L1094.33,158.43L1094.87,158.46L1095.11,158.47M1099.33,158.73L1099.68,158.75L1099.95,158.76L1100.48,158.79L1100.75,158.81L1101.28,158.84L1101.55,158.86L1102.09,158.89L1102.35,158.90L1102.89,158.93L1103.16,158.95L1103.58,158.97M1107.80,159.20L1108.24,159.22L1108.50,159.23L1109.04,159.26L1109.30,159.27L1109.84,159.30L1110.11,159.31L1110.64,159.34L1110.91,159.35L1111.44,159.38L1111.71,159.39L1112.05,159.41M1116.27,159.59L1116.52,159.60L1117.06,159.62L1117.32,159.63L1117.86,159.65L1118.13,159.66L1118.66,159.68L1118.93,159.69L1119.46,159.71L1119.73,159.72L1120.27,159.74L1120.52,159.75M1124.74,159.88L1125.08,159.89L1125.34,159.89L1125.88,159.91L1126.15,159.91L1126.68,159.93L1126.95,159.93L1127.48,159.94L1127.75,159.95L1128.28,159.96L1128.55,159.96L1128.99,159.97M1133.21,160.02L1133.63,160.02L1133.90,160.03L1134.43,160.03L1134.70,160.03L1135.24,160.03L1135.50,160.03L1136.04,160.03L1136.30,160.03L1136.84,160.03L1137.11,160.03L1137.46,160.03M1141.68,159.98L1142.19,159.97L1142.45,159.96L1142.99,159.95L1143.26,159.94L1143.79,159.93L1144.06,159.92L1144.59,159.91L1144.86,159.90L1145.39,159.89L1145.66,159.88L1145.93,159.87M1150.15,159.70L1150.47,159.68L1150.74,159.67L1151.27,159.64L1151.54,159.62L1152.08,159.59L1152.34,159.58L1152.88,159.55L1153.15,159.53L1153.68,159.49L1153.95,159.48L1154.40,159.45M1158.62,159.12L1159.03,159.09L1159.29,159.06L1159.83,159.01L1160.10,158.99L1160.63,158.94L1160.90,158.91L1161.43,158.86L1161.70,158.83L1162.24,158.77L1162.50,158.74L1162.87,158.71M1167.09,158.20L1167.58,158.13L1167.85,158.09L1168.38,158.02L1168.65,157.98L1169.19,157.91L1169.45,157.87L1169.99,157.79L1170.25,157.75L1170.79,157.67L1171.06,157.62L1171.34,157.58M1175.56,156.85L1175.87,156.80L1176.14,156.75L1176.67,156.64L1176.94,156.59L1177.47,156.49L1177.74,156.43L1178.27,156.32L1178.54,156.27L1179.08,156.16L1179.34,156.10L1179.81,156.00M1184.03,155.03L1184.42,154.93L1184.69,154.86L1185.23,154.73L1185.49,154.66L1186.03,154.52L1186.29,154.45L1186.83,154.30L1187.10,154.23L1187.63,154.08L1187.90,154.01L1188.28,153.90M1192.50,152.64L1192.98,152.49L1193.24,152.40L1193.78,152.23L1194.05,152.14L1194.58,151.96L1194.85,151.87L1195.38,151.69L1195.65,151.60L1196.19,151.41L1196.45,151.32L1196.75,151.21M1200.97,149.62L1201.26,149.51L1201.53,149.40L1202.07,149.18L1202.33,149.07L1202.87,148.85L1203.14,148.74L1203.67,148.52L1203.94,148.40L1204.47,148.17L1204.74,148.06L1205.22,147.85M1209.44,145.90L1209.82,145.72L1210.09,145.58L1210.62,145.32L1210.89,145.19L1211.42,144.92L1211.69,144.78L1212.22,144.51L1212.49,144.37L1213.03,144.09L1213.29,143.95L1213.69,143.74M1217.91,141.40L1218.37,141.13L1218.64,140.97L1219.18,140.66L1219.44,140.50L1219.98,140.18L1220.24,140.02L1220.78,139.69L1221.05,139.53L1221.58,139.19L1221.85,139.03L1222.16,138.83M1226.38,136.06L1226.66,135.87L1226.93,135.69L1227.46,135.32L1227.73,135.13L1228.26,134.75L1228.53,134.56L1229.07,134.18L1229.33,133.99L1229.87,133.60L1230.14,133.41L1230.63,133.05M1234.85,129.82L1235.21,129.53L1235.48,129.32L1236.02,128.89L1236.28,128.68L1236.82,128.24L1237.09,128.02L1237.62,127.58L1237.89,127.36L1238.42,126.91L1238.69,126.69L1239.10,126.34M1243.32,122.65L1243.77,122.24L1244.04,122.00L1244.57,121.51L1244.84,121.26L1245.37,120.76L1245.64,120.51L1246.18,120.01L1246.44,119.76L1246.98,119.25L1247.24,119.00L1247.57,118.68M1251.78,114.52L1252.06,114.24L1252.32,113.96L1252.86,113.41L1253.13,113.14L1253.66,112.58L1253.93,112.30L1254.46,111.74L1254.73,111.46L1255.26,110.89L1255.53,110.61L1255.84,110.27M1259.69,106.05L1259.81,105.92L1260.34,105.31L1260.61,105.01L1260.88,104.71L1261.41,104.10L1261.68,103.79L1262.21,103.17L1262.48,102.86L1262.75,102.55L1263.28,101.93L1263.39,101.80M1266.93,97.58L1267.03,97.46L1267.56,96.81L1267.83,96.48L1268.10,96.16L1268.36,95.83L1268.90,95.17L1269.17,94.83L1269.43,94.50L1269.70,94.17L1270.23,93.50L1270.37,93.33M1273.68,89.11L1273.71,89.07L1273.98,88.72L1274.51,88.02L1274.78,87.67L1275.05,87.32L1275.31,86.97L1275.58,86.62L1275.85,86.27L1276.38,85.56L1276.65,85.21L1276.91,84.86M1280.05,80.64L1280.13,80.53L1280.39,80.17L1280.93,79.44L1281.19,79.07L1281.46,78.70L1281.73,78.34L1282.00,77.97L1282.26,77.60L1282.80,76.86L1283.07,76.49L1283.13,76.39M1286.14,72.17L1286.27,71.98L1286.54,71.60L1286.81,71.22L1287.08,70.84L1287.34,70.46L1287.88,69.70L1288.15,69.32L1288.41,68.93L1288.68,68.55L1288.95,68.16L1289.12,67.92M1292.03,63.70L1292.16,63.52L1292.42,63.13L1292.69,62.74L1292.96,62.35L1293.22,61.96L1293.76,61.17L1294.03,60.78L1294.29,60.39L1294.56,60.00L1294.83,59.60L1294.93,59.45M1297.79,55.23L1298.04,54.86L1298.30,54.47L1298.57,54.07L1298.84,53.67L1299.11,53.27L1299.37,52.88L1299.64,52.48L1299.91,52.08L1300.17,51.68L1300.44,51.28L1300.65,50.98M1303.48,46.76L1303.65,46.50" fill="none" stroke="#ff0000" stroke-width="1.7"/>
<path d="M769.00,152.90h0M775.25,152.78h0M781.50,152.43h0M787.75,151.85h0M794.00,151.05h0M800.25,150.05h0M806.50,148.85h0M812.75,147.46h0M819.00,145.90h0M825.25,144.16h0M831.50,142.27h0M837.75,140.23h0M844.00,138.04h0M850.25,135.72h0M856.50,133.28h0M862.75,130.72h0M869.00,128.06h0M875.25,125.31h0M881.50,122.46h0M887.75,119.54h0M894.00,116.55h0M900.25,113.50h0M906.50,110.39h0M912.75,107.24h0M919.00,104.06h0M925.25,100.85h0M931.50,97.62h0M937.75,94.38h0M944.00,91.13h0M950.25,87.89h0M956.50,84.67h0M962.75,81.46h0M969.00,78.28h0M975.25,75.13h0M981.50,72.03h0M987.75,68.97h0M994.00,65.96h0M1000.25,63.02h0M1006.50,60.14h0M1012.75,57.34h0M1019.00,54.61h0M1025.25,51.96h0M1031.50,49.40h0M1037.75,46.94h0M1044.00,44.57h0M1050.25,42.30h0M1056.50,40.14h0M1062.75,38.08h0M1069.00,36.14h0M1075.25,34.32h0M1081.50,32.61h0M1087.75,31.02h0M1094.00,29.56h0M1100.25,28.22h0M1106.50,27.01h0M1112.75,25.92h0M1119.00,24.97h0M1125.25,24.14h0M1131.50,23.45h0M1137.75,22.88h0M1144.00,22.44h0M1150.25,22.13h0M1156.50,21.95h0M1162.75,21.89h0M1169.00,21.96h0M1175.25,22.15h0M1181.50,22.46h0M1187.75,22.89h0M1194.00,23.43h0M1200.25,24.08h0M1206.50,24.84h0M1212.75,25.71h0M1219.00,26.67h0M1225.25,27.72h0M1231.50,28.87h0M1237.75,30.09h0M1244.00,31.40h0M1250.25,32.78h0M1256.50,34.22h0M1262.75,35.72h0M1269.00,37.28h0M1275.25,38.88h0M1281.50,40.51h0M1287.75,42.18h0M1294.00,43.87h0M1300.25,45.57h0" fill="none" stroke="#0000ff" stroke-width="2.0" stroke-linecap="round"/>
</g>
<g transform="translate(1273.20,36.80)">
<text x="-19.13" y="0" font-size="31.3" font-family="Liberation Sans, sans-serif" >(b)</text></g>
<rect x="769.0" y="3.45" width="534.6500000000001" height="171.05" fill="none" stroke="#1c1c1c" stroke-width="1.18"/>
<line x1="822.47" y1="174.50" x2="822.47" y2="171.90" stroke="#000" stroke-width="1.18"/>
<line x1="822.47" y1="3.45" x2="822.47" y2="6.05" stroke="#000" stroke-width="1.18"/>
<line x1="875.93" y1="174.50" x2="875.93" y2="169.70" stroke="#000" stroke-width="1.18"/>
<line x1="875.93" y1="3.45" x2="875.93" y2="8.25" stroke="#000" stroke-width="1.18"/>
<line x1="929.39" y1="174.50" x2="929.39" y2="171.90" stroke="#000" stroke-width="1.18"/>
<line x1="929.39" y1="3.45" x2="929.39" y2="6.05" stroke="#000" stroke-width="1.18"/>
<line x1="982.86" y1="174.50" x2="982.86" y2="169.70" stroke="#000" stroke-width="1.18"/>
<line x1="982.86" y1="3.45" x2="982.86" y2="8.25" stroke="#000" stroke-width="1.18"/>
<line x1="1036.33" y1="174.50" x2="1036.33" y2="171.90" stroke="#000" stroke-width="1.18"/>
<line x1="1036.33" y1="3.45" x2="1036.33" y2="6.05" stroke="#000" stroke-width="1.18"/>
<line x1="1089.79" y1="174.50" x2="1089.79" y2="169.70" stroke="#000" stroke-width="1.18"/>
<line x1="1089.79" y1="3.45" x2="1089.79" y2="8.25" stroke="#000" stroke-width="1.18"/>
<line x1="1143.26" y1="174.50" x2="1143.26" y2="171.90" stroke="#000" stroke-width="1.18"/>
<line x1="1143.26" y1="3.45" x2="1143.26" y2="6.05" stroke="#000" stroke-width="1.18"/>
<line x1="1196.72" y1="174.50" x2="1196.72" y2="169.70" stroke="#000" stroke-width="1.18"/>
<line x1="1196.72" y1="3.45" x2="1196.72" y2="8.25" stroke="#000" stroke-width="1.18"/>
<line x1="1250.19" y1="174.50" x2="1250.19" y2="171.90" stroke="#000" stroke-width="1.18"/>
<line x1="1250.19" y1="3.45" x2="1250.19" y2="6.05" stroke="#000" stroke-width="1.18"/>
<line x1="769.00" y1="152.90" x2="773.80" y2="152.90" stroke="#000" stroke-width="1.18"/>
<line x1="1303.65" y1="152.90" x2="1298.85" y2="152.90" stroke="#000" stroke-width="1.18"/>
<line x1="769.00" y1="126.30" x2="771.60" y2="126.30" stroke="#000" stroke-width="1.18"/>
<line x1="1303.65" y1="126.30" x2="1301.05" y2="126.30" stroke="#000" stroke-width="1.18"/>
<line x1="769.00" y1="99.70" x2="773.80" y2="99.70" stroke="#000" stroke-width="1.18"/>
<line x1="1303.65" y1="99.70" x2="1298.85" y2="99.70" stroke="#000" stroke-width="1.18"/>
<line x1="769.00" y1="73.10" x2="771.60" y2="73.10" stroke="#000" stroke-width="1.18"/>
<line x1="1303.65" y1="73.10" x2="1301.05" y2="73.10" stroke="#000" stroke-width="1.18"/>
<line x1="769.00" y1="46.50" x2="773.80" y2="46.50" stroke="#000" stroke-width="1.18"/>
<line x1="1303.65" y1="46.50" x2="1298.85" y2="46.50" stroke="#000" stroke-width="1.18"/>
<line x1="769.00" y1="19.90" x2="771.60" y2="19.90" stroke="#000" stroke-width="1.18"/>
<line x1="1303.65" y1="19.90" x2="1301.05" y2="19.90" stroke="#000" stroke-width="1.18"/>
<g transform="translate(769.00,201.75) scale(0.98,1.05)">
<text x="-19.04" y="0" font-size="27.4" font-family="Liberation Sans, sans-serif" >0.0</text></g>
<g transform="translate(875.93,201.75) scale(0.98,1.05)">
<text x="-19.04" y="0" font-size="27.4" font-family="Liberation Sans, sans-serif" >0.2</text></g>
<g transform="translate(982.86,201.75) scale(0.98,1.05)">
<text x="-19.04" y="0" font-size="27.4" font-family="Liberation Sans, sans-serif" >0.4</text></g>
<g transform="translate(1089.79,201.75) scale(0.98,1.05)">
<text x="-19.04" y="0" font-size="27.4" font-family="Liberation Sans, sans-serif" >0.6</text></g>
<g transform="translate(1196.72,201.75) scale(0.98,1.05)">
<text x="-19.04" y="0" font-size="27.4" font-family="Liberation Sans, sans-serif" >0.8</text></g>
<g transform="translate(1302.85,201.75) scale(0.98,1.05)">
<path class="g1" transform="translate(-19.04,0.00) scale(0.02740)" d="M259,0V-505H102V-568C204,-581 247,-599 282,-709H347V0Z"/>
<text x="-19.04" y="0" font-size="27.4" font-family="Liberation Sans, sans-serif" ><tspan style="visibility:hidden">1</tspan>.0</text></g>
<g transform="translate(763.80,160.90) scale(0.98,1.05)">
<text x="-38.09" y="0" font-size="27.4" font-family="Liberation Sans, sans-serif" >0.0</text></g>
<g transform="translate(763.80,107.70) scale(0.98,1.05)">
<text x="-38.09" y="0" font-size="27.4" font-family="Liberation Sans, sans-serif" >0.5</text></g>
<g transform="translate(763.80,54.50) scale(0.98,1.05)">
<path class="g1" transform="translate(-38.09,0.00) scale(0.02740)" d="M259,0V-505H102V-568C204,-581 247,-599 282,-709H347V0Z"/>
<text x="-38.09" y="0" font-size="27.4" font-family="Liberation Sans, sans-serif" ><tspan style="visibility:hidden">1</tspan>.0</text></g>
<text transform="translate(1036.6,223.0) scale(1,1.09)" font-size="30.5" text-anchor="middle" font-family="Liberation Sans, sans-serif">t</text>
<text transform="translate(701.0,88.0) rotate(-90)" font-size="27" text-anchor="middle" font-family="Liberation Sans, sans-serif">x(t)</text>
<line x1="777.80" y1="23.20" x2="834.90" y2="23.20" stroke="#000" stroke-width="1.6"/>
<path d="M777.60,54.20L781.85,54.20M786.07,54.20L790.32,54.20M794.54,54.20L798.79,54.20M803.01,54.20L807.26,54.20M811.48,54.20L815.73,54.20M819.95,54.20L824.20,54.20M828.42,54.20L832.67,54.20" fill="none" stroke="#ff0000" stroke-width="1.7"/>
<path d="M778.70,84.90h0M785.05,84.90h0M791.40,84.90h0M797.75,84.90h0M804.10,84.90h0M810.45,84.90h0M816.80,84.90h0M823.15,84.90h0M829.50,84.90h0" fill="none" stroke="#0000ff" stroke-width="2.0" stroke-linecap="round"/>
<g transform="translate(841.80,31.80) scale(1.0,1.04)">
<path class="g1" transform="translate(64.97,0.00) scale(0.02460)" d="M259,0V-505H102V-568C204,-581 247,-599 282,-709H347V0Z"/>
<text x="0.00" y="0" font-size="24.6" font-family="Liberation Sans, sans-serif" >A=33/<tspan style="visibility:hidden">1</tspan>40</text></g>
<g transform="translate(841.80,62.10) scale(1.0,1.04)">
<text x="0.00" y="0" font-size="24.6" font-family="Liberation Sans, sans-serif" >A=0.05</text></g>
<g transform="translate(841.80,93.00) scale(1.0,1.04)">
<text x="0.00" y="0" font-size="24.6" font-family="Liberation Sans, sans-serif" >A=0.8</text></g>
<clipPath id="cc"><rect x="769.0" y="217.45" width="534.6500000000001" height="171.05"/></clipPath>
<g clip-path="url(#cc)">
<path d="M769.00,358.70 L771.67,358.44 L774.35,358.19 L777.02,357.94 L779.69,357.68 L782.37,357.43 L785.04,357.18 L787.71,356.93 L790.39,356.69 L793.06,356.44 L795.73,356.20 L798.41,355.95 L801.08,355.71 L803.75,355.47 L806.43,355.23 L809.10,354.99 L811.77,354.76 L814.45,354.52 L817.12,354.29 L819.79,354.05 L822.47,353.82 L825.14,353.59 L827.81,353.36 L830.48,353.13 L833.16,352.91 L835.83,352.68 L838.50,352.46 L841.18,352.23 L843.85,352.01 L846.52,351.79 L849.20,351.57 L851.87,351.36 L854.54,351.14 L857.22,350.92 L859.89,350.71 L862.56,350.50 L865.24,350.29 L867.91,350.08 L870.58,349.87 L873.26,349.66 L875.93,349.46 L878.60,349.25 L881.28,349.05 L883.95,348.84 L886.62,348.64 L889.30,348.44 L891.97,348.25 L894.64,348.05 L897.32,347.85 L899.99,347.66 L902.66,347.46 L905.34,347.27 L908.01,347.08 L910.68,346.89 L913.36,346.70 L916.03,346.52 L918.70,346.33 L921.38,346.15 L924.05,345.97 L926.72,345.78 L929.39,345.60 L932.07,345.42 L934.74,345.25 L937.41,345.07 L940.09,344.89 L942.76,344.72 L945.43,344.55 L948.11,344.38 L950.78,344.21 L953.45,344.04 L956.13,343.87 L958.80,343.70 L961.47,343.54 L964.15,343.37 L966.82,343.21 L969.49,343.05 L972.17,342.89 L974.84,342.73 L977.51,342.58 L980.19,342.42 L982.86,342.26 L985.53,342.11 L988.21,341.96 L990.88,341.81 L993.55,341.66 L996.23,341.51 L998.90,341.36 L1001.57,341.22 L1004.25,341.07 L1006.92,340.93 L1009.59,340.79 L1012.27,340.65 L1014.94,340.51 L1017.61,340.37 L1020.29,340.23 L1022.96,340.10 L1025.63,339.96 L1028.31,339.83 L1030.98,339.70 L1033.65,339.57 L1036.33,339.44 L1039.00,339.31 L1041.67,339.19 L1044.34,339.06 L1047.02,338.94 L1049.69,338.81 L1052.36,338.69 L1055.04,338.57 L1057.71,338.45 L1060.38,338.34 L1063.06,338.22 L1065.73,338.11 L1068.40,337.99 L1071.08,337.88 L1073.75,337.77 L1076.42,337.66 L1079.10,337.55 L1081.77,337.44 L1084.44,337.34 L1087.12,337.23 L1089.79,337.13 L1092.46,337.03 L1095.14,336.93 L1097.81,336.83 L1100.48,336.73 L1103.16,336.63 L1105.83,336.54 L1108.50,336.44 L1111.18,336.35 L1113.85,336.26 L1116.52,336.17 L1119.20,336.08 L1121.87,335.99 L1124.54,335.90 L1127.22,335.82 L1129.89,335.73 L1132.56,335.65 L1135.24,335.57 L1137.91,335.49 L1140.58,335.41 L1143.26,335.33 L1145.93,335.25 L1148.60,335.18 L1151.27,335.11 L1153.95,335.03 L1156.62,334.96 L1159.29,334.89 L1161.97,334.82 L1164.64,334.76 L1167.31,334.69 L1169.99,334.62 L1172.66,334.56 L1175.33,334.50 L1178.01,334.44 L1180.68,334.38 L1183.35,334.32 L1186.03,334.26 L1188.70,334.21 L1191.37,334.15 L1194.05,334.10 L1196.72,334.05 L1199.39,334.00 L1202.07,333.95 L1204.74,333.90 L1207.41,333.85 L1210.09,333.81 L1212.76,333.76 L1215.43,333.72 L1218.11,333.68 L1220.78,333.64 L1223.45,333.60 L1226.13,333.56 L1228.80,333.52 L1231.47,333.49 L1234.15,333.45 L1236.82,333.42 L1239.49,333.39 L1242.17,333.36 L1244.84,333.33 L1247.51,333.30 L1250.19,333.28 L1252.86,333.25 L1255.53,333.23 L1258.20,333.21 L1260.88,333.18 L1263.55,333.16 L1266.22,333.15 L1268.90,333.13 L1271.57,333.11 L1274.24,333.10 L1276.92,333.08 L1279.59,333.07 L1282.26,333.06 L1284.94,333.05 L1287.61,333.04 L1290.28,333.04 L1292.96,333.03 L1295.63,333.03 L1298.30,333.02 L1300.98,333.02 L1303.65,333.02" fill="none" stroke="#000" stroke-width="1.6"/>
<path d="M769.00,358.70L769.27,358.70L769.80,358.70L770.07,358.69L770.60,358.69L770.87,358.69L771.41,358.69L771.67,358.69L772.21,358.68L772.48,358.68L773.01,358.68L773.25,358.68M777.47,358.66L777.82,358.66L778.09,358.66L778.62,358.65L778.89,358.65L779.43,358.65L779.69,358.65L780.23,358.64L780.49,358.64L781.03,358.64L781.30,358.64L781.72,358.64M785.94,358.62L786.38,358.62L786.64,358.62L787.18,358.61L787.45,358.61L787.98,358.61L788.25,358.61L788.78,358.61L789.05,358.61L789.58,358.60L789.85,358.60L790.19,358.60M794.41,358.58L794.66,358.58L795.20,358.58L795.47,358.58L796.00,358.58L796.27,358.57L796.80,358.57L797.07,358.57L797.60,358.57L797.87,358.57L798.41,358.57L798.66,358.57M802.88,358.55L803.22,358.55L803.48,358.55L804.02,358.54L804.29,358.54L804.82,358.54L805.09,358.54L805.62,358.54L805.89,358.54L806.43,358.54L806.69,358.54L807.13,358.53M811.35,358.52L811.77,358.52L812.04,358.52L812.57,358.51L812.84,358.51L813.38,358.51L813.64,358.51L814.18,358.51L814.45,358.51L814.98,358.51L815.25,358.51L815.60,358.50M819.82,358.49L820.33,358.49L820.59,358.49L821.13,358.49L821.40,358.49L821.93,358.49L822.20,358.49L822.73,358.48L823.00,358.48L823.53,358.48L823.80,358.48L824.07,358.48M828.29,358.47L828.61,358.47L828.88,358.47L829.42,358.47L829.68,358.47L830.22,358.46L830.48,358.46L831.02,358.46L831.29,358.46L831.82,358.46L832.09,358.46L832.54,358.46M836.76,358.45L837.17,358.45L837.44,358.45L837.97,358.45L838.24,358.45L838.77,358.45L839.04,358.45L839.57,358.45L839.84,358.45L840.38,358.44L840.64,358.44L841.01,358.44M845.23,358.44L845.72,358.44L845.99,358.44L846.52,358.44L846.79,358.44L847.33,358.44L847.59,358.44L848.13,358.43L848.40,358.43L848.93,358.43L849.20,358.43L849.48,358.43M853.70,358.43L854.01,358.43L854.28,358.43L854.81,358.43L855.08,358.43L855.61,358.43L855.88,358.43L856.42,358.43L856.68,358.43L857.22,358.43L857.48,358.43L857.95,358.43M862.17,358.43L862.56,358.43L862.83,358.43L863.37,358.43L863.63,358.43L864.17,358.43L864.44,358.43L864.97,358.43L865.24,358.43L865.77,358.44L866.04,358.44L866.42,358.44M870.64,358.44L871.12,358.44L871.39,358.44L871.92,358.44L872.19,358.44L872.72,358.45L872.99,358.45L873.52,358.45L873.79,358.45L874.33,358.45L874.59,358.45L874.89,358.45M879.11,358.46L879.41,358.46L879.67,358.46L880.21,358.47L880.47,358.47L881.01,358.47L881.28,358.47L881.81,358.47L882.08,358.47L882.61,358.47L882.88,358.48L883.36,358.48M887.58,358.50L887.96,358.50L888.23,358.50L888.76,358.50L889.03,358.50L889.56,358.51L889.83,358.51L890.37,358.51L890.63,358.51L891.17,358.51L891.43,358.52L891.83,358.52M896.05,358.54L896.51,358.55L896.78,358.55L897.32,358.55L897.58,358.55L898.12,358.56L898.39,358.56L898.92,358.56L899.19,358.57L899.72,358.57L899.99,358.57L900.30,358.57M904.52,358.61L904.80,358.61L905.07,358.61L905.60,358.62L905.87,358.62L906.41,358.62L906.67,358.63L907.21,358.63L907.47,358.63L908.01,358.64L908.28,358.64L908.77,358.65M912.99,358.69L913.36,358.70L913.62,358.70L914.16,358.70L914.42,358.71L914.96,358.71L915.23,358.72L915.76,358.72L916.03,358.73L916.56,358.73L916.83,358.74L917.24,358.74M921.46,358.80L921.91,358.80L922.18,358.81L922.71,358.81L922.98,358.82L923.51,358.83L923.78,358.83L924.32,358.84L924.58,358.84L925.12,358.85L925.39,358.85L925.71,358.86M929.93,358.93L930.20,358.93L930.73,358.94L931.00,358.94L931.53,358.95L931.80,358.96L932.34,358.97L932.60,358.97L933.14,358.98L933.40,358.99L933.94,358.99L934.18,359.00M938.40,359.08L938.75,359.09L939.02,359.09L939.55,359.10L939.82,359.11L940.36,359.12L940.62,359.13L941.16,359.14L941.42,359.14L941.96,359.15L942.23,359.16L942.65,359.17M946.87,359.26L947.31,359.27L947.57,359.28L948.11,359.29L948.38,359.30L948.91,359.31L949.18,359.32L949.71,359.33L949.98,359.34L950.51,359.35L950.78,359.36L951.12,359.37M955.34,359.48L955.59,359.48L956.13,359.50L956.39,359.51L956.93,359.52L957.20,359.53L957.73,359.54L958.00,359.55L958.53,359.57L958.80,359.57L959.34,359.59L959.59,359.60M963.81,359.72L964.15,359.73L964.41,359.74L964.95,359.76L965.22,359.77L965.75,359.78L966.02,359.79L966.55,359.81L966.82,359.82L967.36,359.83L967.62,359.84L968.06,359.86M972.28,360.00L972.70,360.01L972.97,360.02L973.50,360.04L973.77,360.05L974.31,360.07L974.57,360.08L975.11,360.10L975.37,360.11L975.91,360.13L976.18,360.14L976.53,360.15M980.75,360.31L981.26,360.33L981.52,360.34L982.06,360.36L982.33,360.37L982.86,360.39L983.13,360.40L983.66,360.42L983.93,360.43L984.46,360.45L984.73,360.46L985.00,360.47M989.22,360.65L989.54,360.66L989.81,360.67L990.35,360.70L990.61,360.71L991.15,360.73L991.41,360.74L991.95,360.76L992.22,360.78L992.75,360.80L993.02,360.81L993.47,360.83M997.69,361.02L998.10,361.04L998.36,361.05L998.90,361.07L999.17,361.08L999.70,361.11L999.97,361.12L1000.50,361.15L1000.77,361.16L1001.31,361.18L1001.57,361.19L1001.94,361.21M1006.16,361.41L1006.65,361.43L1006.92,361.45L1007.45,361.47L1007.72,361.49L1008.26,361.51L1008.52,361.52L1009.06,361.55L1009.33,361.56L1009.86,361.59L1010.13,361.60L1010.41,361.62M1014.63,361.82L1014.94,361.84L1015.21,361.85L1015.74,361.88L1016.01,361.89L1016.54,361.92L1016.81,361.93L1017.34,361.96L1017.61,361.97L1018.15,362.00L1018.41,362.01L1018.88,362.03M1023.10,362.25L1023.49,362.27L1023.76,362.28L1024.30,362.31L1024.56,362.32L1025.10,362.35L1025.36,362.36L1025.90,362.39L1026.17,362.40L1026.70,362.43L1026.97,362.44L1027.35,362.46M1031.57,362.67L1032.05,362.69L1032.32,362.71L1032.85,362.73L1033.12,362.75L1033.65,362.77L1033.92,362.79L1034.45,362.81L1034.72,362.83L1035.26,362.85L1035.52,362.86L1035.82,362.88M1040.04,363.08L1040.33,363.10L1040.60,363.11L1041.14,363.13L1041.40,363.15L1041.94,363.17L1042.21,363.18L1042.74,363.21L1043.01,363.22L1043.54,363.24L1043.81,363.26L1044.29,363.28M1048.51,363.46L1048.89,363.48L1049.16,363.49L1049.69,363.51L1049.96,363.52L1050.49,363.55L1050.76,363.56L1051.30,363.58L1051.56,363.59L1052.10,363.61L1052.36,363.62L1052.76,363.64M1056.98,363.80L1057.44,363.81L1057.71,363.82L1058.25,363.84L1058.51,363.85L1059.05,363.87L1059.31,363.88L1059.85,363.89L1060.12,363.90L1060.65,363.92L1060.92,363.93L1061.23,363.94M1065.45,364.06L1065.73,364.06L1066.00,364.07L1066.53,364.08L1066.80,364.09L1067.33,364.10L1067.60,364.11L1068.14,364.12L1068.40,364.12L1068.94,364.14L1069.21,364.14L1069.70,364.15M1073.92,364.22L1074.29,364.22L1074.55,364.22L1075.09,364.23L1075.35,364.23L1075.89,364.23L1076.16,364.24L1076.69,364.24L1076.96,364.24L1077.49,364.24L1077.76,364.25L1078.17,364.25M1082.39,364.24L1082.84,364.24L1083.11,364.24L1083.64,364.23L1083.91,364.23L1084.44,364.22L1084.71,364.22L1085.25,364.21L1085.51,364.21L1086.05,364.20L1086.31,364.20L1086.64,364.19M1090.86,364.10L1091.13,364.09L1091.66,364.08L1091.93,364.07L1092.46,364.05L1092.73,364.04L1093.27,364.02L1093.53,364.01L1094.07,363.99L1094.33,363.98L1094.87,363.96L1095.11,363.95M1099.33,363.75L1099.68,363.73L1099.95,363.71L1100.48,363.68L1100.75,363.66L1101.28,363.63L1101.55,363.61L1102.09,363.58L1102.35,363.56L1102.89,363.52L1103.16,363.51L1103.58,363.48M1107.80,363.14L1108.24,363.10L1108.50,363.08L1109.04,363.03L1109.30,363.00L1109.84,362.95L1110.11,362.92L1110.64,362.87L1110.91,362.84L1111.44,362.79L1111.71,362.76L1112.05,362.72M1116.27,362.23L1116.52,362.19L1117.06,362.12L1117.32,362.09L1117.86,362.02L1118.13,361.98L1118.66,361.91L1118.93,361.87L1119.46,361.79L1119.73,361.75L1120.27,361.68L1120.52,361.64M1124.74,360.96L1125.08,360.90L1125.34,360.85L1125.88,360.76L1126.15,360.71L1126.68,360.61L1126.95,360.56L1127.48,360.46L1127.75,360.41L1128.28,360.31L1128.55,360.26L1128.99,360.17M1133.21,359.28L1133.63,359.18L1133.90,359.12L1134.43,359.00L1134.70,358.94L1135.24,358.81L1135.50,358.74L1136.04,358.62L1136.30,358.55L1136.84,358.42L1137.11,358.35L1137.46,358.26M1141.68,357.13L1142.19,356.98L1142.45,356.91L1142.99,356.75L1143.26,356.67L1143.79,356.51L1144.06,356.43L1144.59,356.27L1144.86,356.19L1145.39,356.02L1145.66,355.94L1145.93,355.85M1150.15,354.45L1150.47,354.34L1150.74,354.24L1151.27,354.05L1151.54,353.96L1152.08,353.76L1152.34,353.67L1152.88,353.47L1153.15,353.37L1153.68,353.17L1153.95,353.07L1154.40,352.89M1158.62,351.19L1159.03,351.02L1159.29,350.91L1159.83,350.68L1160.10,350.56L1160.63,350.33L1160.90,350.21L1161.43,349.97L1161.70,349.85L1162.24,349.61L1162.50,349.49L1162.87,349.32M1167.09,347.30L1167.58,347.05L1167.85,346.92L1168.38,346.64L1168.65,346.51L1169.19,346.23L1169.45,346.09L1169.99,345.81L1170.25,345.67L1170.79,345.39L1171.06,345.24L1171.34,345.09M1175.56,342.72L1175.87,342.54L1176.14,342.38L1176.67,342.07L1176.94,341.91L1177.47,341.59L1177.74,341.43L1178.27,341.10L1178.54,340.94L1179.08,340.61L1179.34,340.45L1179.81,340.16M1184.03,337.43L1184.42,337.16L1184.69,336.98L1185.23,336.62L1185.49,336.44L1186.03,336.07L1186.29,335.88L1186.83,335.51L1187.10,335.33L1187.63,334.95L1187.90,334.76L1188.28,334.49M1192.50,331.39L1192.98,331.02L1193.24,330.82L1193.78,330.41L1194.05,330.20L1194.58,329.79L1194.85,329.58L1195.38,329.16L1195.65,328.95L1196.19,328.52L1196.45,328.31L1196.75,328.07M1200.97,324.59L1201.26,324.34L1201.53,324.12L1202.07,323.66L1202.33,323.43L1202.87,322.97L1203.14,322.74L1203.67,322.27L1203.94,322.04L1204.47,321.57L1204.74,321.33L1205.22,320.91M1209.44,317.06L1209.82,316.71L1210.09,316.46L1210.62,315.96L1210.89,315.71L1211.42,315.20L1211.69,314.94L1212.22,314.43L1212.49,314.18L1213.03,313.66L1213.29,313.40L1213.69,313.02M1217.90,308.84L1218.11,308.64L1218.64,308.10L1218.91,307.83L1219.44,307.28L1219.71,307.01L1220.24,306.46L1220.51,306.18L1221.05,305.63L1221.31,305.35L1221.85,304.80L1222.04,304.59M1226.03,300.37L1226.13,300.27L1226.66,299.69L1226.93,299.40L1227.46,298.82L1227.73,298.53L1228.26,297.95L1228.53,297.66L1229.07,297.08L1229.33,296.78L1229.87,296.20L1229.93,296.12M1233.73,291.90L1233.88,291.74L1234.41,291.13L1234.68,290.83L1234.95,290.53L1235.48,289.93L1235.75,289.62L1236.28,289.02L1236.55,288.72L1236.82,288.41L1237.35,287.80L1237.48,287.65M1241.16,283.43L1241.36,283.21L1241.90,282.59L1242.17,282.28L1242.43,281.97L1242.97,281.35L1243.23,281.04L1243.77,280.42L1244.04,280.12L1244.30,279.81L1244.84,279.19L1244.84,279.18M1248.47,274.96L1248.58,274.84L1249.12,274.22L1249.38,273.91L1249.65,273.60L1250.19,272.98L1250.45,272.67L1250.99,272.05L1251.25,271.74L1251.52,271.43L1252.06,270.81L1252.14,270.71M1255.80,266.49L1256.07,266.20L1256.60,265.58L1256.87,265.28L1257.14,264.97L1257.67,264.37L1257.94,264.06L1258.47,263.46L1258.74,263.15L1259.01,262.85L1259.54,262.25L1259.55,262.24M1263.34,258.02L1263.55,257.80L1264.09,257.21L1264.35,256.92L1264.62,256.63L1265.16,256.05L1265.42,255.76L1265.96,255.19L1266.22,254.90L1266.49,254.62L1267.03,254.05L1267.29,253.77M1271.38,249.55L1271.84,249.10L1272.11,248.84L1272.64,248.31L1272.91,248.05L1273.44,247.53L1273.71,247.27L1274.24,246.75L1274.51,246.50L1275.05,245.99L1275.31,245.74L1275.63,245.44M1279.85,241.69L1280.13,241.46L1280.39,241.24L1280.93,240.79L1281.19,240.57L1281.73,240.14L1282.00,239.93L1282.53,239.51L1282.80,239.30L1283.33,238.89L1283.60,238.69L1284.10,238.31M1288.32,235.43L1288.68,235.21L1288.95,235.05L1289.48,234.73L1289.75,234.58L1290.28,234.28L1290.55,234.13L1291.09,233.84L1291.35,233.70L1291.89,233.43L1292.16,233.29L1292.57,233.09M1296.79,231.41L1297.23,231.28L1297.50,231.20L1298.04,231.06L1298.30,230.99L1298.84,230.86L1299.11,230.80L1299.64,230.69L1299.91,230.64L1300.44,230.55L1300.71,230.51L1301.04,230.47" fill="none" stroke="#ff0000" stroke-width="1.7"/>
<path d="M769.00,358.70h0M775.25,355.41h0M781.50,352.25h0M787.75,349.22h0M794.00,346.31h0M800.25,343.54h0M806.50,340.89h0M812.75,338.37h0M819.00,335.98h0M825.25,333.71h0M831.50,331.57h0M837.75,329.56h0M844.00,327.68h0M850.25,325.92h0M856.50,324.29h0M862.75,322.78h0M869.00,321.39h0M875.25,320.13h0M881.50,319.00h0M887.75,317.98h0M894.00,317.08h0M900.25,316.30h0M906.50,315.64h0M912.75,315.10h0M919.00,314.67h0M925.25,314.35h0M931.50,314.15h0M937.75,314.05h0M944.00,314.07h0M950.25,314.18h0M956.50,314.40h0M962.75,314.72h0M969.00,315.14h0M975.25,315.66h0M981.50,316.26h0M987.75,316.96h0M994.00,317.75h0M1000.25,318.61h0M1006.50,319.56h0M1012.75,320.59h0M1019.00,321.69h0M1025.25,322.87h0M1031.50,324.11h0M1037.75,325.41h0M1044.00,326.78h0M1050.25,328.20h0M1056.50,329.68h0M1062.75,331.20h0M1069.00,332.77h0M1075.25,334.38h0M1081.50,336.03h0M1087.75,337.71h0M1094.00,339.41h0M1100.25,341.14h0M1106.50,342.89h0M1112.75,344.66h0M1119.00,346.44h0M1125.25,348.22h0M1131.50,350.00h0M1137.75,351.78h0M1144.00,353.56h0M1150.25,355.32h0M1156.50,357.06h0M1162.75,358.79h0M1169.00,360.49h0M1175.25,362.15h0M1181.50,363.78h0M1187.75,365.38h0M1194.00,366.93h0M1200.25,368.43h0M1206.50,369.87h0M1212.75,371.26h0M1219.00,372.59h0M1225.25,373.85h0M1231.50,375.03h0M1237.75,376.15h0M1244.00,377.18h0M1250.25,378.13h0M1256.50,378.99h0M1262.75,379.75h0M1269.00,380.43h0M1275.25,380.99h0M1281.50,381.46h0M1287.75,381.81h0M1294.00,382.06h0M1300.25,382.18h0" fill="none" stroke="#0000ff" stroke-width="2.0" stroke-linecap="round"/>
</g>
<g transform="translate(1277.60,251.90)">
<text x="-18.25" y="0" font-size="31.3" font-family="Liberation Sans, sans-serif" >(c)</text></g>
<rect x="769.0" y="217.45" width="534.6500000000001" height="171.05" fill="none" stroke="#1c1c1c" stroke-width="1.18"/>
<line x1="822.47" y1="388.50" x2="822.47" y2="385.90" stroke="#000" stroke-width="1.18"/>
<line x1="822.47" y1="217.45" x2="822.47" y2="220.05" stroke="#000" stroke-width="1.18"/>
<line x1="875.93" y1="388.50" x2="875.93" y2="383.70" stroke="#000" stroke-width="1.18"/>
<line x1="875.93" y1="217.45" x2="875.93" y2="222.25" stroke="#000" stroke-width="1.18"/>
<line x1="929.39" y1="388.50" x2="929.39" y2="385.90" stroke="#000" stroke-width="1.18"/>
<line x1="929.39" y1="217.45" x2="929.39" y2="220.05" stroke="#000" stroke-width="1.18"/>
<line x1="982.86" y1="388.50" x2="982.86" y2="383.70" stroke="#000" stroke-width="1.18"/>
<line x1="982.86" y1="217.45" x2="982.86" y2="222.25" stroke="#000" stroke-width="1.18"/>
<line x1="1036.33" y1="388.50" x2="1036.33" y2="385.90" stroke="#000" stroke-width="1.18"/>
<line x1="1036.33" y1="217.45" x2="1036.33" y2="220.05" stroke="#000" stroke-width="1.18"/>
<line x1="1089.79" y1="388.50" x2="1089.79" y2="383.70" stroke="#000" stroke-width="1.18"/>
<line x1="1089.79" y1="217.45" x2="1089.79" y2="222.25" stroke="#000" stroke-width="1.18"/>
<line x1="1143.26" y1="388.50" x2="1143.26" y2="385.90" stroke="#000" stroke-width="1.18"/>
<line x1="1143.26" y1="217.45" x2="1143.26" y2="220.05" stroke="#000" stroke-width="1.18"/>
<line x1="1196.72" y1="388.50" x2="1196.72" y2="383.70" stroke="#000" stroke-width="1.18"/>
<line x1="1196.72" y1="217.45" x2="1196.72" y2="222.25" stroke="#000" stroke-width="1.18"/>
<line x1="1250.19" y1="388.50" x2="1250.19" y2="385.90" stroke="#000" stroke-width="1.18"/>
<line x1="1250.19" y1="217.45" x2="1250.19" y2="220.05" stroke="#000" stroke-width="1.18"/>
<line x1="769.00" y1="384.38" x2="771.60" y2="384.38" stroke="#000" stroke-width="1.18"/>
<line x1="1303.65" y1="384.38" x2="1301.05" y2="384.38" stroke="#000" stroke-width="1.18"/>
<line x1="769.00" y1="358.70" x2="773.80" y2="358.70" stroke="#000" stroke-width="1.18"/>
<line x1="1303.65" y1="358.70" x2="1298.85" y2="358.70" stroke="#000" stroke-width="1.18"/>
<line x1="769.00" y1="333.02" x2="771.60" y2="333.02" stroke="#000" stroke-width="1.18"/>
<line x1="1303.65" y1="333.02" x2="1301.05" y2="333.02" stroke="#000" stroke-width="1.18"/>
<line x1="769.00" y1="307.34" x2="773.80" y2="307.34" stroke="#000" stroke-width="1.18"/>
<line x1="1303.65" y1="307.34" x2="1298.85" y2="307.34" stroke="#000" stroke-width="1.18"/>
<line x1="769.00" y1="281.66" x2="771.60" y2="281.66" stroke="#000" stroke-width="1.18"/>
<line x1="1303.65" y1="281.66" x2="1301.05" y2="281.66" stroke="#000" stroke-width="1.18"/>
<line x1="769.00" y1="255.98" x2="773.80" y2="255.98" stroke="#000" stroke-width="1.18"/>
<line x1="1303.65" y1="255.98" x2="1298.85" y2="255.98" stroke="#000" stroke-width="1.18"/>
<line x1="769.00" y1="230.30" x2="771.60" y2="230.30" stroke="#000" stroke-width="1.18"/>
<line x1="1303.65" y1="230.30" x2="1301.05" y2="230.30" stroke="#000" stroke-width="1.18"/>
<g transform="translate(769.00,414.95) scale(0.98,1.05)">
<text x="-19.04" y="0" font-size="27.4" font-family="Liberation Sans, sans-serif" >0.0</text></g>
<g transform="translate(875.93,414.95) scale(0.98,1.05)">
<text x="-19.04" y="0" font-size="27.4" font-family="Liberation Sans, sans-serif" >0.2</text></g>
<g transform="translate(982.86,414.95) scale(0.98,1.05)">
<text x="-19.04" y="0" font-size="27.4" font-family="Liberation Sans, sans-serif" >0.4</text></g>
<g transform="translate(1089.79,414.95) scale(0.98,1.05)">
<text x="-19.04" y="0" font-size="27.4" font-family="Liberation Sans, sans-serif" >0.6</text></g>
<g transform="translate(1196.72,414.95) scale(0.98,1.05)">
<text x="-19.04" y="0" font-size="27.4" font-family="Liberation Sans, sans-serif" >0.8</text></g>
<g transform="translate(1302.85,414.95) scale(0.98,1.05)">
<path class="g1" transform="translate(-19.04,0.00) scale(0.02740)" d="M259,0V-505H102V-568C204,-581 247,-599 282,-709H347V0Z"/>
<text x="-19.04" y="0" font-size="27.4" font-family="Liberation Sans, sans-serif" ><tspan style="visibility:hidden">1</tspan>.0</text></g>
<g transform="translate(763.50,367.20) scale(0.95,1.05)">
<text x="-15.24" y="0" font-size="27.4" font-family="Liberation Sans, sans-serif" >0</text></g>
<g transform="translate(763.50,315.84) scale(0.95,1.05)">
<text x="-15.24" y="0" font-size="27.4" font-family="Liberation Sans, sans-serif" >3</text></g>
<g transform="translate(763.50,264.48) scale(0.95,1.05)">
<text x="-15.24" y="0" font-size="27.4" font-family="Liberation Sans, sans-serif" >6</text></g>
<text transform="translate(1036.6,463.7) scale(1,1.09)" font-size="30.5" text-anchor="middle" font-family="Liberation Sans, sans-serif">t</text>
<text transform="translate(712.4,300.8) rotate(-90)" font-size="27" text-anchor="middle" font-family="Liberation Sans, sans-serif">v(t)</text>
</svg>
</body></html>
